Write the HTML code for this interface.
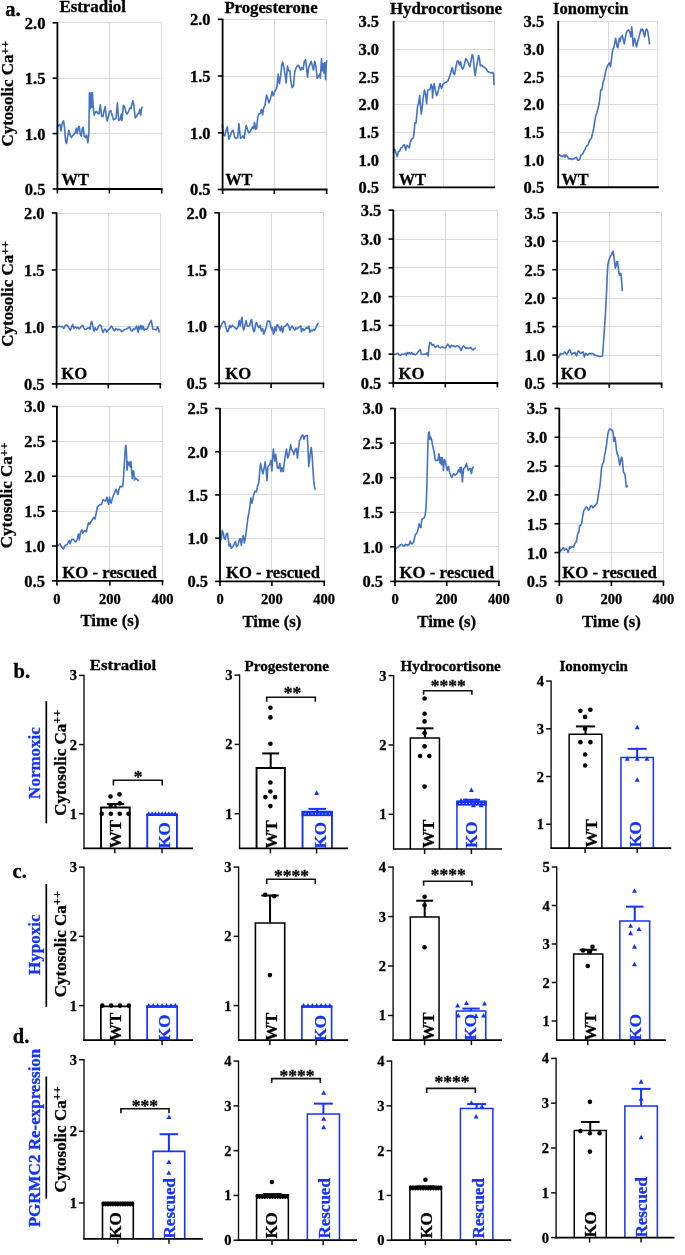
<!DOCTYPE html>
<html><head><meta charset="utf-8"><style>
html,body{margin:0;padding:0;background:#fff;}
svg{display:block;font-family:"Liberation Serif", serif;will-change:transform;}
text{stroke:currentColor;stroke-width:0.3px;}
</style></head><body>
<svg width="685" height="1255" viewBox="0 0 685 1255">
<rect width="685" height="1255" fill="#fff"/>
<text x="5.2" y="15.6" font-size="20.5" font-weight="bold" fill="#000" color="#000" text-anchor="start">a.</text>
<text x="59.4" y="12" font-size="16.3" font-weight="bold" fill="#000" color="#000" text-anchor="start" textLength="66.6" lengthAdjust="spacingAndGlyphs">Estradiol</text>
<text x="224.4" y="13.1" font-size="16.3" font-weight="bold" fill="#000" color="#000" text-anchor="start" textLength="93.2" lengthAdjust="spacingAndGlyphs">Progesterone</text>
<text x="389.9" y="13.7" font-size="16.3" font-weight="bold" fill="#000" color="#000" text-anchor="start" textLength="112.2" lengthAdjust="spacingAndGlyphs">Hydrocortisone</text>
<text x="553.1" y="13.7" font-size="16.3" font-weight="bold" fill="#000" color="#000" text-anchor="start" textLength="75.4" lengthAdjust="spacingAndGlyphs">Ionomycin</text>
<text x="45.4" y="194.94" font-size="16.5" font-weight="bold" fill="#000" color="#000" text-anchor="end">0.5</text>
<line x1="52.6" y1="189" x2="57.4" y2="189" stroke="#000" stroke-width="1.6" stroke-linecap="butt"/>
<line x1="57.4" y1="133.5" x2="161.7" y2="133.5" stroke="#d9d9d9" stroke-width="1" stroke-linecap="butt"/>
<text x="45.4" y="139.54" font-size="16.5" font-weight="bold" fill="#000" color="#000" text-anchor="end">1.0</text>
<line x1="52.6" y1="133.6" x2="57.4" y2="133.6" stroke="#000" stroke-width="1.6" stroke-linecap="butt"/>
<line x1="57.4" y1="78.5" x2="161.7" y2="78.5" stroke="#d9d9d9" stroke-width="1" stroke-linecap="butt"/>
<text x="45.4" y="84.14" font-size="16.5" font-weight="bold" fill="#000" color="#000" text-anchor="end">1.5</text>
<line x1="52.6" y1="78.2" x2="57.4" y2="78.2" stroke="#000" stroke-width="1.6" stroke-linecap="butt"/>
<line x1="57.4" y1="22.5" x2="161.7" y2="22.5" stroke="#d9d9d9" stroke-width="1" stroke-linecap="butt"/>
<text x="45.4" y="28.74" font-size="16.5" font-weight="bold" fill="#000" color="#000" text-anchor="end">2.0</text>
<line x1="52.6" y1="22.8" x2="57.4" y2="22.8" stroke="#000" stroke-width="1.6" stroke-linecap="butt"/>
<line x1="109.5" y1="22.8" x2="109.5" y2="189" stroke="#d9d9d9" stroke-width="1" stroke-linecap="butt"/>
<line x1="161.5" y1="22.8" x2="161.5" y2="189" stroke="#d9d9d9" stroke-width="1" stroke-linecap="butt"/>
<polyline points="56.97,127.04 58.94,125.07 59.99,124.42 60.91,130.99 62.23,123.1 63.54,120.74 64.46,127.04 65.51,140.18 66.56,143.47 67.48,137.56 68.8,130.33 70.11,134.93 71.42,137.56 72.74,135.58 74.05,134.27 75.37,132.3 76.28,128.36 77.34,133.61 78.39,127.04 79.31,126.52 80.23,134.27 81.28,136.24 82.33,128.36 83.25,127.31 84.17,136.24 85.48,137.56 86.53,134.93 87.85,142.81 88.9,133.61 89.42,92.88 90.21,108.65 91.13,92.88 91.79,107.34 92.45,92.88 93.1,106.02 94.15,115.22 95.07,112.59 96.39,111.28 97.7,113.25 99.02,113.91 100.33,104.71 101.64,116.53 102.96,116.53 104.27,109.96 105.19,106.68 106.24,116.53 107.16,121.13 108.21,117.19 109.53,111.28 110.84,110.62 112.15,115.22 113.47,119.82 114.78,119.16 116.1,117.85 117.41,102.74 118.72,120.47 120.04,119.82 121.35,113.91 122.01,120.47 123.32,105.37 124.64,106.68 125.95,112.59 127.26,113.91 128.58,111.28 129.89,107.99 130.94,108.65 131.86,104.71 132.78,100.77 133.83,104.71 135.15,117.85 136.46,116.53 137.77,113.91 138.83,113.25 139.75,109.31 140.67,115.22 141.72,107.99 142.37,106.68" fill="none" stroke="#4472c4" stroke-width="1.6" stroke-linejoin="round"/>
<line x1="57.4" y1="22.3" x2="57.4" y2="189.9" stroke="#000" stroke-width="1.8" stroke-linecap="butt"/>
<line x1="56.5" y1="189" x2="162.6" y2="189" stroke="#000" stroke-width="1.9" stroke-linecap="butt"/>
<line x1="57.4" y1="189" x2="57.4" y2="193.5" stroke="#000" stroke-width="1.6" stroke-linecap="butt"/>
<line x1="109.4" y1="189" x2="109.4" y2="193.5" stroke="#000" stroke-width="1.6" stroke-linecap="butt"/>
<line x1="161.7" y1="189" x2="161.7" y2="193.5" stroke="#000" stroke-width="1.6" stroke-linecap="butt"/>
<text x="61.6" y="185.4" font-size="17" font-weight="bold" fill="#000" color="#000" text-anchor="start" textLength="27.4" lengthAdjust="spacingAndGlyphs">WT</text>
<text x="210.6" y="195.44" font-size="16.5" font-weight="bold" fill="#000" color="#000" text-anchor="end">0.5</text>
<line x1="217.8" y1="189.5" x2="222.6" y2="189.5" stroke="#000" stroke-width="1.6" stroke-linecap="butt"/>
<line x1="222.6" y1="132.5" x2="326.6" y2="132.5" stroke="#d9d9d9" stroke-width="1" stroke-linecap="butt"/>
<text x="210.6" y="138.71" font-size="16.5" font-weight="bold" fill="#000" color="#000" text-anchor="end">1.0</text>
<line x1="217.8" y1="132.77" x2="222.6" y2="132.77" stroke="#000" stroke-width="1.6" stroke-linecap="butt"/>
<line x1="222.6" y1="76.5" x2="326.6" y2="76.5" stroke="#d9d9d9" stroke-width="1" stroke-linecap="butt"/>
<text x="210.6" y="81.97" font-size="16.5" font-weight="bold" fill="#000" color="#000" text-anchor="end">1.5</text>
<line x1="217.8" y1="76.03" x2="222.6" y2="76.03" stroke="#000" stroke-width="1.6" stroke-linecap="butt"/>
<line x1="222.6" y1="19.5" x2="326.6" y2="19.5" stroke="#d9d9d9" stroke-width="1" stroke-linecap="butt"/>
<text x="210.6" y="25.24" font-size="16.5" font-weight="bold" fill="#000" color="#000" text-anchor="end">2.0</text>
<line x1="217.8" y1="19.3" x2="222.6" y2="19.3" stroke="#000" stroke-width="1.6" stroke-linecap="butt"/>
<line x1="274.5" y1="19.3" x2="274.5" y2="189.5" stroke="#d9d9d9" stroke-width="1" stroke-linecap="butt"/>
<line x1="326.5" y1="19.3" x2="326.5" y2="189.5" stroke="#d9d9d9" stroke-width="1" stroke-linecap="butt"/>
<polyline points="222.41,124.67 223.53,135.11 224.82,135.92 226.1,130.3 227.23,126.76 228.83,139.13 230.44,135.11 232.04,131.1 233.17,130.3 234.77,137.52 236.06,138.33 237.67,137.52 238.95,123.87 239.75,131.9 240.56,138.33 241.68,137.52 242.8,135.92 244.09,138.33 245.37,130.3 246.18,125.48 247.3,128.69 248.59,132.7 250.19,131.9 251.48,128.69 252.92,126.76 253.72,128.69 254.53,122.27 255.65,129.49 256.61,128.69 257.74,117.45 258.86,114.24 260.15,113.43 261.43,109.42 262.56,115.04 263.68,107.81 264.97,105.4 266.57,94.97 267.7,98.18 268.98,103 270.59,98.18 272.19,91.43 273.32,95.77 274.6,92.07 275.89,89.34 277.01,86.94 278.13,74.09 279.42,83.72 280.7,75.69 281.83,64.45 282.63,62.04 283.92,67.67 285.04,74.09 286.16,82.92 287.45,66.06 288.73,70.88 289.86,70.88 290.98,82.12 292.27,87.74 293.55,85.33 294.67,72.48 295.8,68.47 297.08,66.06 298.37,65.26 299.49,67.67 300.78,70.07 301.9,67.67 303.19,69.27 304.31,61.24 305.59,59.64 306.72,69.27 307.52,77.3 308.65,67.67 309.93,64.45 311.22,61.24 312.34,66.06 313.46,70.07 314.75,61.24 315.87,66.06 317.16,78.1 318.28,77.3 319.57,74.09 320.37,78.1 321.49,58.83 322.3,70.88 323.1,63.65 324.06,73.29 324.71,62.85 325.67,79.71 326.47,61.24 327.27,60.44" fill="none" stroke="#4472c4" stroke-width="1.6" stroke-linejoin="round"/>
<line x1="222.6" y1="18.8" x2="222.6" y2="190.4" stroke="#000" stroke-width="1.8" stroke-linecap="butt"/>
<line x1="221.7" y1="189.5" x2="327.5" y2="189.5" stroke="#000" stroke-width="1.9" stroke-linecap="butt"/>
<line x1="222.6" y1="189.5" x2="222.6" y2="194" stroke="#000" stroke-width="1.6" stroke-linecap="butt"/>
<line x1="274.3" y1="189.5" x2="274.3" y2="194" stroke="#000" stroke-width="1.6" stroke-linecap="butt"/>
<line x1="326.6" y1="189.5" x2="326.6" y2="194" stroke="#000" stroke-width="1.6" stroke-linecap="butt"/>
<text x="225.2" y="185" font-size="17" font-weight="bold" fill="#000" color="#000" text-anchor="start" textLength="27.3" lengthAdjust="spacingAndGlyphs">WT</text>
<text x="379.1" y="193.34" font-size="16.5" font-weight="bold" fill="#000" color="#000" text-anchor="end">0.5</text>
<line x1="393.6" y1="159.5" x2="494.1" y2="159.5" stroke="#d9d9d9" stroke-width="1" stroke-linecap="butt"/>
<text x="379.1" y="165.67" font-size="16.5" font-weight="bold" fill="#000" color="#000" text-anchor="end">1.0</text>
<line x1="393.6" y1="132.5" x2="494.1" y2="132.5" stroke="#d9d9d9" stroke-width="1" stroke-linecap="butt"/>
<text x="379.1" y="138.01" font-size="16.5" font-weight="bold" fill="#000" color="#000" text-anchor="end">1.5</text>
<line x1="393.6" y1="104.5" x2="494.1" y2="104.5" stroke="#d9d9d9" stroke-width="1" stroke-linecap="butt"/>
<text x="379.1" y="110.34" font-size="16.5" font-weight="bold" fill="#000" color="#000" text-anchor="end">2.0</text>
<line x1="393.6" y1="76.5" x2="494.1" y2="76.5" stroke="#d9d9d9" stroke-width="1" stroke-linecap="butt"/>
<text x="379.1" y="82.67" font-size="16.5" font-weight="bold" fill="#000" color="#000" text-anchor="end">2.5</text>
<line x1="393.6" y1="49.5" x2="494.1" y2="49.5" stroke="#d9d9d9" stroke-width="1" stroke-linecap="butt"/>
<text x="379.1" y="55.01" font-size="16.5" font-weight="bold" fill="#000" color="#000" text-anchor="end">3.0</text>
<line x1="393.6" y1="21.5" x2="494.1" y2="21.5" stroke="#d9d9d9" stroke-width="1" stroke-linecap="butt"/>
<text x="379.1" y="27.34" font-size="16.5" font-weight="bold" fill="#000" color="#000" text-anchor="end">3.5</text>
<line x1="443.5" y1="21.4" x2="443.5" y2="187.4" stroke="#d9d9d9" stroke-width="1" stroke-linecap="butt"/>
<line x1="494.5" y1="21.4" x2="494.5" y2="187.4" stroke="#d9d9d9" stroke-width="1" stroke-linecap="butt"/>
<polyline points="393.53,152.6 394.82,149.38 396.1,153.4 397.23,156.61 398.35,151.79 399.64,150.99 400.92,147.78 402.04,147.78 403.17,145.37 404.45,144.57 405.74,150.19 406.86,145.37 407.99,146.17 409.27,147.78 410.56,141.35 411.68,138.95 413.29,138.14 414.09,132.52 414.89,122.89 416.02,122.89 416.98,112.45 417.62,106.02 418.59,103.62 419.71,95.59 420.51,106.02 421.32,114.05 422.12,107.63 423.4,96.39 424.53,89.97 425.65,94.78 426.61,103.62 427.74,89.97 428.86,89.97 430.15,89.16 431.11,84.34 432.07,86.75 432.56,98 433.36,88.36 434.16,83.54 435.29,89.97 436.57,95.59 437.7,93.18 438.98,87.56 440.1,83.54 441.39,88.36 443,84.34 444.6,82.74 446.21,82.26 447.81,81.13 449.42,77.12 451.02,72.3 452.31,67.48 453.43,73.1 454.56,74.71 455.84,67.48 457.13,61.06 458.25,61.06 459.38,65.07 460.66,61.86 461.46,66.68 462.59,69.09 463.55,67.48 464.67,63.47 465.8,58.65 467.08,60.26 468.69,64.27 469.97,66.68 471.1,60.26 472.22,54.64 473.19,57.04 474.31,69.09 475.11,75.51 476.4,67.48 477.52,61.06 478.65,55.44 479.61,59.45 480.25,65.88 481.54,65.07 483.14,66.68 484.75,67.48 486.35,69.09 487.64,71.5 489.57,72.3 491.17,73.1 492.78,72.3 493.58,73.91 494.06,85.15" fill="none" stroke="#4472c4" stroke-width="1.6" stroke-linejoin="round"/>
<line x1="393.6" y1="20.9" x2="393.6" y2="188.3" stroke="#000" stroke-width="1.8" stroke-linecap="butt"/>
<line x1="392.7" y1="187.4" x2="495" y2="187.4" stroke="#000" stroke-width="1.9" stroke-linecap="butt"/>
<text x="398.8" y="185" font-size="17" font-weight="bold" fill="#000" color="#000" text-anchor="start" textLength="27.1" lengthAdjust="spacingAndGlyphs">WT</text>
<text x="544.2" y="193.24" font-size="16.5" font-weight="bold" fill="#000" color="#000" text-anchor="end">0.5</text>
<line x1="558.2" y1="159.5" x2="657.9" y2="159.5" stroke="#d9d9d9" stroke-width="1" stroke-linecap="butt"/>
<text x="544.2" y="165.59" font-size="16.5" font-weight="bold" fill="#000" color="#000" text-anchor="end">1.0</text>
<line x1="558.2" y1="132.5" x2="657.9" y2="132.5" stroke="#d9d9d9" stroke-width="1" stroke-linecap="butt"/>
<text x="544.2" y="137.94" font-size="16.5" font-weight="bold" fill="#000" color="#000" text-anchor="end">1.5</text>
<line x1="558.2" y1="104.5" x2="657.9" y2="104.5" stroke="#d9d9d9" stroke-width="1" stroke-linecap="butt"/>
<text x="544.2" y="110.29" font-size="16.5" font-weight="bold" fill="#000" color="#000" text-anchor="end">2.0</text>
<line x1="558.2" y1="76.5" x2="657.9" y2="76.5" stroke="#d9d9d9" stroke-width="1" stroke-linecap="butt"/>
<text x="544.2" y="82.64" font-size="16.5" font-weight="bold" fill="#000" color="#000" text-anchor="end">2.5</text>
<line x1="558.2" y1="49.5" x2="657.9" y2="49.5" stroke="#d9d9d9" stroke-width="1" stroke-linecap="butt"/>
<text x="544.2" y="54.99" font-size="16.5" font-weight="bold" fill="#000" color="#000" text-anchor="end">3.0</text>
<line x1="558.2" y1="21.5" x2="657.9" y2="21.5" stroke="#d9d9d9" stroke-width="1" stroke-linecap="butt"/>
<text x="544.2" y="27.34" font-size="16.5" font-weight="bold" fill="#000" color="#000" text-anchor="end">3.5</text>
<line x1="608.5" y1="21.4" x2="608.5" y2="187.3" stroke="#d9d9d9" stroke-width="1" stroke-linecap="butt"/>
<line x1="657.5" y1="21.4" x2="657.5" y2="187.3" stroke="#d9d9d9" stroke-width="1" stroke-linecap="butt"/>
<polyline points="558.37,154.12 559.6,154.89 561.13,156.42 562.66,156.42 563.89,154.89 564.96,157.19 566.04,154.89 567.26,156.42 568.8,158.72 570.33,158.72 571.86,159.48 573.39,158.72 574.93,157.95 576.46,157.19 577.69,160.25 578.76,160.25 579.83,158.72 581.06,154.89 582.59,154.12 584.12,151.05 585.66,147.99 586.88,145.69 587.96,144.92 589.03,141.86 590.25,139.56 591.48,138.03 592.55,133.43 593.63,128.83 594.55,122.7 595.62,116.57 596.69,113.5 597.92,108.9 599.14,103.54 600.22,95.11 600.68,90.51 601.75,89.74 602.52,85.91 603.28,81.31 604.05,79.78 604.82,75.95 605.58,72.12 606.35,69.05 607.12,66.75 608.34,64.45 609.41,62.92 610.49,66.75 611.41,59.85 612.17,53.72 612.94,49.12 614.01,46.82 614.78,42.99 615.55,38.39 616.31,41.46 617.08,46.82 617.84,47.59 618.61,42.99 619.38,38.39 620.14,41.46 620.91,37.63 622.14,35.33 623.21,39.16 624.28,43.76 625.2,38.39 626.28,33.03 627.35,30.73 628.57,29.96 629.8,32.26 630.87,36.86 631.64,26.9 632.41,33.8 633.17,46.06 633.94,39.93 634.71,38.39 635.47,42.23 636.55,46.82 637.77,41.46 639,36.86 640.07,33.03 640.84,29.2 641.6,30.73 642.37,29.2 643.14,30.73 643.9,34.56 644.67,36.86 645.44,31.5 646.2,29.2 646.97,29.2 647.89,32.26 648.81,38.39 649.57,44.52" fill="none" stroke="#4472c4" stroke-width="1.6" stroke-linejoin="round"/>
<line x1="558.2" y1="20.9" x2="558.2" y2="188.2" stroke="#000" stroke-width="1.8" stroke-linecap="butt"/>
<line x1="557.3" y1="187.3" x2="658.8" y2="187.3" stroke="#000" stroke-width="1.9" stroke-linecap="butt"/>
<text x="561.5" y="184.8" font-size="17" font-weight="bold" fill="#000" color="#000" text-anchor="start" textLength="27.1" lengthAdjust="spacingAndGlyphs">WT</text>
<text x="44.6" y="389.84" font-size="16.5" font-weight="bold" fill="#000" color="#000" text-anchor="end">0.5</text>
<line x1="51.8" y1="383.9" x2="56.6" y2="383.9" stroke="#000" stroke-width="1.6" stroke-linecap="butt"/>
<line x1="56.6" y1="326.5" x2="160.3" y2="326.5" stroke="#d9d9d9" stroke-width="1" stroke-linecap="butt"/>
<text x="44.6" y="332.87" font-size="16.5" font-weight="bold" fill="#000" color="#000" text-anchor="end">1.0</text>
<line x1="51.8" y1="326.93" x2="56.6" y2="326.93" stroke="#000" stroke-width="1.6" stroke-linecap="butt"/>
<line x1="56.6" y1="269.5" x2="160.3" y2="269.5" stroke="#d9d9d9" stroke-width="1" stroke-linecap="butt"/>
<text x="44.6" y="275.91" font-size="16.5" font-weight="bold" fill="#000" color="#000" text-anchor="end">1.5</text>
<line x1="51.8" y1="269.97" x2="56.6" y2="269.97" stroke="#000" stroke-width="1.6" stroke-linecap="butt"/>
<line x1="56.6" y1="213.5" x2="160.3" y2="213.5" stroke="#d9d9d9" stroke-width="1" stroke-linecap="butt"/>
<text x="44.6" y="218.94" font-size="16.5" font-weight="bold" fill="#000" color="#000" text-anchor="end">2.0</text>
<line x1="51.8" y1="213" x2="56.6" y2="213" stroke="#000" stroke-width="1.6" stroke-linecap="butt"/>
<line x1="108.5" y1="213" x2="108.5" y2="383.9" stroke="#d9d9d9" stroke-width="1" stroke-linecap="butt"/>
<line x1="160.5" y1="213" x2="160.5" y2="383.9" stroke="#d9d9d9" stroke-width="1" stroke-linecap="butt"/>
<polyline points="56.61,327.67 57.89,326.86 59.5,326.06 61.1,326.86 62.23,326.38 63.83,328.47 64.96,326.06 66.24,324.77 67.53,325.74 68.65,327.67 70.26,330.07 71.38,327.67 72.67,324.45 73.95,328.47 75.07,326.86 76.68,327.99 77.8,327.34 79.09,328.95 80.37,327.67 81.5,326.06 82.62,325.26 83.59,327.67 84.71,329.27 86.32,328.95 87.92,327.99 89.05,327.67 90.01,329.27 90.65,324.45 91.61,321.24 92.74,325.26 93.54,330.07 94.34,330.88 95.15,327.67 96.43,330.07 97.56,328.95 98.68,326.06 99.97,324.77 101.25,326.06 102.37,330.88 103.18,332.48 104.46,329.27 105.59,329.27 106.71,332.16 108,330.07 109.28,329.27 110.4,327.67 111.53,326.06 112.49,327.67 113.62,330.07 114.74,330.88 115.7,328.47 116.83,328.95 117.95,330.07 119.24,329.27 120.52,330.07 121.65,331.68 123.25,330.88 124.86,329.27 126.46,328.95 128.07,327.99 129.67,326.86 130.8,330.07 132.08,331.2 133.37,328.95 134.49,329.59 135.62,327.67 136.58,326.06 137.22,329.27 138.19,332.16 138.83,326.06 139.79,329.27 140.92,325.26 142.04,329.27 143,326.06 144.13,330.07 145.25,328.95 146.54,329.27 147.34,328.47 148.14,326.86 148.95,324.45 149.75,322.85 150.55,321.56 151.35,320.44 152.16,325.26 152.96,329.27 154.57,329.59 156.17,330.07 157.46,326.86 158.58,329.27 159.38,332.48" fill="none" stroke="#4472c4" stroke-width="1.6" stroke-linejoin="round"/>
<line x1="56.6" y1="212.5" x2="56.6" y2="384.8" stroke="#000" stroke-width="1.8" stroke-linecap="butt"/>
<line x1="55.7" y1="383.9" x2="161.2" y2="383.9" stroke="#000" stroke-width="1.9" stroke-linecap="butt"/>
<line x1="56.6" y1="383.9" x2="56.6" y2="388.4" stroke="#000" stroke-width="1.6" stroke-linecap="butt"/>
<line x1="108.3" y1="383.9" x2="108.3" y2="388.4" stroke="#000" stroke-width="1.6" stroke-linecap="butt"/>
<line x1="160.3" y1="383.9" x2="160.3" y2="388.4" stroke="#000" stroke-width="1.6" stroke-linecap="butt"/>
<text x="61.2" y="379.4" font-size="17" font-weight="bold" fill="#000" color="#000" text-anchor="start" textLength="26" lengthAdjust="spacingAndGlyphs">KO</text>
<text x="207.1" y="389.34" font-size="16.5" font-weight="bold" fill="#000" color="#000" text-anchor="end">0.5</text>
<line x1="214.3" y1="383.4" x2="219.1" y2="383.4" stroke="#000" stroke-width="1.6" stroke-linecap="butt"/>
<line x1="219.1" y1="326.5" x2="323.4" y2="326.5" stroke="#d9d9d9" stroke-width="1" stroke-linecap="butt"/>
<text x="207.1" y="332.47" font-size="16.5" font-weight="bold" fill="#000" color="#000" text-anchor="end">1.0</text>
<line x1="214.3" y1="326.53" x2="219.1" y2="326.53" stroke="#000" stroke-width="1.6" stroke-linecap="butt"/>
<line x1="219.1" y1="269.5" x2="323.4" y2="269.5" stroke="#d9d9d9" stroke-width="1" stroke-linecap="butt"/>
<text x="207.1" y="275.61" font-size="16.5" font-weight="bold" fill="#000" color="#000" text-anchor="end">1.5</text>
<line x1="214.3" y1="269.67" x2="219.1" y2="269.67" stroke="#000" stroke-width="1.6" stroke-linecap="butt"/>
<line x1="219.1" y1="212.5" x2="323.4" y2="212.5" stroke="#d9d9d9" stroke-width="1" stroke-linecap="butt"/>
<text x="207.1" y="218.74" font-size="16.5" font-weight="bold" fill="#000" color="#000" text-anchor="end">2.0</text>
<line x1="214.3" y1="212.8" x2="219.1" y2="212.8" stroke="#000" stroke-width="1.6" stroke-linecap="butt"/>
<line x1="271.5" y1="212.8" x2="271.5" y2="383.4" stroke="#d9d9d9" stroke-width="1" stroke-linecap="butt"/>
<line x1="323.5" y1="212.8" x2="323.5" y2="383.4" stroke="#d9d9d9" stroke-width="1" stroke-linecap="butt"/>
<polyline points="219.28,330.07 220.41,326.86 222.01,323.65 223.62,321.24 224.74,322.04 226.03,327.67 227.31,331.68 228.44,330.88 229.56,325.26 230.85,327.67 232.13,325.26 233.26,326.06 234.86,327.67 236.47,329.27 238.07,326.86 239.2,320.44 240.16,326.06 241.29,319.64 242.09,317.23 242.89,327.67 243.69,330.07 244.98,325.26 246.1,320.44 247.23,326.06 248.51,326.06 249.8,325.26 250.92,320.44 251.72,319.64 252.53,326.06 253.65,331.68 254.61,330.88 255.74,323.65 256.54,322.53 257.83,326.06 258.95,327.67 260.07,325.26 261.36,330.88 262.64,328.47 263.77,334.09 264.89,330.88 266.18,327.67 267.46,321.24 268.59,320.92 269.71,321.24 270.67,326.06 271.8,330.07 272.6,327.67 273.4,334.09 274.21,332.48 275.01,326.86 276.13,330.88 277.1,324.45 278.22,326.06 279.35,327.67 280.31,330.88 281.43,326.06 282.56,332.48 283.84,326.86 285.13,326.06 286.25,325.26 287.38,323.65 288.66,326.06 289.94,330.07 291.07,327.67 292.19,326.06 293.48,328.47 294.76,330.07 295.89,327.67 297.01,328.95 298.3,327.67 299.58,326.86 300.7,325.74 301.51,331.68 302.79,328.47 303.92,330.56 305.04,329.27 306.33,327.67 307.61,328.47 308.73,326.06 309.86,332.48 311.14,330.07 312.43,330.88 313.55,329.27 314.68,330.07 315.96,327.67 317.25,324.45 318.37,322.85" fill="none" stroke="#4472c4" stroke-width="1.6" stroke-linejoin="round"/>
<line x1="219.1" y1="212.3" x2="219.1" y2="384.3" stroke="#000" stroke-width="1.8" stroke-linecap="butt"/>
<line x1="218.2" y1="383.4" x2="324.3" y2="383.4" stroke="#000" stroke-width="1.9" stroke-linecap="butt"/>
<line x1="219.1" y1="383.4" x2="219.1" y2="387.9" stroke="#000" stroke-width="1.6" stroke-linecap="butt"/>
<line x1="271.1" y1="383.4" x2="271.1" y2="387.9" stroke="#000" stroke-width="1.6" stroke-linecap="butt"/>
<line x1="323.4" y1="383.4" x2="323.4" y2="387.9" stroke="#000" stroke-width="1.6" stroke-linecap="butt"/>
<text x="225.2" y="379.1" font-size="17" font-weight="bold" fill="#000" color="#000" text-anchor="start" textLength="26" lengthAdjust="spacingAndGlyphs">KO</text>
<text x="381.3" y="388.94" font-size="16.5" font-weight="bold" fill="#000" color="#000" text-anchor="end">0.5</text>
<line x1="388.5" y1="383" x2="393.3" y2="383" stroke="#000" stroke-width="1.6" stroke-linecap="butt"/>
<line x1="393.3" y1="354.5" x2="497.4" y2="354.5" stroke="#d9d9d9" stroke-width="1" stroke-linecap="butt"/>
<text x="381.3" y="360.14" font-size="16.5" font-weight="bold" fill="#000" color="#000" text-anchor="end">1.0</text>
<line x1="388.5" y1="354.2" x2="393.3" y2="354.2" stroke="#000" stroke-width="1.6" stroke-linecap="butt"/>
<line x1="393.3" y1="325.5" x2="497.4" y2="325.5" stroke="#d9d9d9" stroke-width="1" stroke-linecap="butt"/>
<text x="381.3" y="331.34" font-size="16.5" font-weight="bold" fill="#000" color="#000" text-anchor="end">1.5</text>
<line x1="388.5" y1="325.4" x2="393.3" y2="325.4" stroke="#000" stroke-width="1.6" stroke-linecap="butt"/>
<line x1="393.3" y1="296.5" x2="497.4" y2="296.5" stroke="#d9d9d9" stroke-width="1" stroke-linecap="butt"/>
<text x="381.3" y="302.54" font-size="16.5" font-weight="bold" fill="#000" color="#000" text-anchor="end">2.0</text>
<line x1="388.5" y1="296.6" x2="393.3" y2="296.6" stroke="#000" stroke-width="1.6" stroke-linecap="butt"/>
<line x1="393.3" y1="267.5" x2="497.4" y2="267.5" stroke="#d9d9d9" stroke-width="1" stroke-linecap="butt"/>
<text x="381.3" y="273.74" font-size="16.5" font-weight="bold" fill="#000" color="#000" text-anchor="end">2.5</text>
<line x1="388.5" y1="267.8" x2="393.3" y2="267.8" stroke="#000" stroke-width="1.6" stroke-linecap="butt"/>
<line x1="393.3" y1="239.5" x2="497.4" y2="239.5" stroke="#d9d9d9" stroke-width="1" stroke-linecap="butt"/>
<text x="381.3" y="244.94" font-size="16.5" font-weight="bold" fill="#000" color="#000" text-anchor="end">3.0</text>
<line x1="388.5" y1="239" x2="393.3" y2="239" stroke="#000" stroke-width="1.6" stroke-linecap="butt"/>
<line x1="393.3" y1="210.5" x2="497.4" y2="210.5" stroke="#d9d9d9" stroke-width="1" stroke-linecap="butt"/>
<text x="381.3" y="216.14" font-size="16.5" font-weight="bold" fill="#000" color="#000" text-anchor="end">3.5</text>
<line x1="388.5" y1="210.2" x2="393.3" y2="210.2" stroke="#000" stroke-width="1.6" stroke-linecap="butt"/>
<line x1="445.5" y1="210.2" x2="445.5" y2="383" stroke="#d9d9d9" stroke-width="1" stroke-linecap="butt"/>
<line x1="497.5" y1="210.2" x2="497.5" y2="383" stroke="#d9d9d9" stroke-width="1" stroke-linecap="butt"/>
<polyline points="393.53,354.09 395.14,354.41 396.74,353.77 398.03,353.29 399.31,354.89 400.6,355.37 402.04,354.09 403.65,354.41 405.26,353.29 406.38,355.37 407.34,352.48 408.47,353.77 409.27,352.48 410.56,354.09 411.68,352.48 412.8,354.41 414.09,353.77 415.37,354.89 416.5,354.09 417.62,352.48 418.91,350.88 420.19,349.59 421.32,354.09 422.92,354.41 424.53,354.09 426.13,354.41 427.26,352.8 428.22,356.02 428.86,347.67 429.83,342.53 430.95,342.85 432.07,345.26 433.36,344.45 434.64,346.86 435.77,347.34 436.89,346.06 437.86,345.26 438.98,347.34 440.59,347.67 442.19,346.86 443.8,347.67 445.4,347.99 446.53,346.06 447.81,344.13 449.1,346.06 450.22,347.67 451.35,345.26 452.63,346.06 453.92,345.74 455.04,346.86 456.16,346.06 457.45,345.74 458.73,346.86 459.86,347.67 460.98,350.56 462.27,347.67 463.55,345.74 464.67,346.86 465.8,348.47 467.08,347.67 468.37,348.47 469.49,347.99 470.62,347.34 471.9,349.27 473.19,350.07 474.31,348.47 475.92,347.99" fill="none" stroke="#4472c4" stroke-width="1.6" stroke-linejoin="round"/>
<line x1="393.3" y1="209.7" x2="393.3" y2="383.9" stroke="#000" stroke-width="1.8" stroke-linecap="butt"/>
<line x1="392.4" y1="383" x2="498.3" y2="383" stroke="#000" stroke-width="1.9" stroke-linecap="butt"/>
<line x1="393.3" y1="383" x2="393.3" y2="387.5" stroke="#000" stroke-width="1.6" stroke-linecap="butt"/>
<line x1="445.3" y1="383" x2="445.3" y2="387.5" stroke="#000" stroke-width="1.6" stroke-linecap="butt"/>
<line x1="497.4" y1="383" x2="497.4" y2="387.5" stroke="#000" stroke-width="1.6" stroke-linecap="butt"/>
<text x="398.6" y="379.1" font-size="17" font-weight="bold" fill="#000" color="#000" text-anchor="start" textLength="26" lengthAdjust="spacingAndGlyphs">KO</text>
<text x="545.1" y="389.44" font-size="16.5" font-weight="bold" fill="#000" color="#000" text-anchor="end">0.5</text>
<line x1="552.3" y1="383.5" x2="557.1" y2="383.5" stroke="#000" stroke-width="1.6" stroke-linecap="butt"/>
<line x1="557.1" y1="355.5" x2="661.6" y2="355.5" stroke="#d9d9d9" stroke-width="1" stroke-linecap="butt"/>
<text x="545.1" y="360.99" font-size="16.5" font-weight="bold" fill="#000" color="#000" text-anchor="end">1.0</text>
<line x1="552.3" y1="355.05" x2="557.1" y2="355.05" stroke="#000" stroke-width="1.6" stroke-linecap="butt"/>
<line x1="557.1" y1="326.5" x2="661.6" y2="326.5" stroke="#d9d9d9" stroke-width="1" stroke-linecap="butt"/>
<text x="545.1" y="332.54" font-size="16.5" font-weight="bold" fill="#000" color="#000" text-anchor="end">1.5</text>
<line x1="552.3" y1="326.6" x2="557.1" y2="326.6" stroke="#000" stroke-width="1.6" stroke-linecap="butt"/>
<line x1="557.1" y1="298.5" x2="661.6" y2="298.5" stroke="#d9d9d9" stroke-width="1" stroke-linecap="butt"/>
<text x="545.1" y="304.09" font-size="16.5" font-weight="bold" fill="#000" color="#000" text-anchor="end">2.0</text>
<line x1="552.3" y1="298.15" x2="557.1" y2="298.15" stroke="#000" stroke-width="1.6" stroke-linecap="butt"/>
<line x1="557.1" y1="269.5" x2="661.6" y2="269.5" stroke="#d9d9d9" stroke-width="1" stroke-linecap="butt"/>
<text x="545.1" y="275.64" font-size="16.5" font-weight="bold" fill="#000" color="#000" text-anchor="end">2.5</text>
<line x1="552.3" y1="269.7" x2="557.1" y2="269.7" stroke="#000" stroke-width="1.6" stroke-linecap="butt"/>
<line x1="557.1" y1="241.5" x2="661.6" y2="241.5" stroke="#d9d9d9" stroke-width="1" stroke-linecap="butt"/>
<text x="545.1" y="247.19" font-size="16.5" font-weight="bold" fill="#000" color="#000" text-anchor="end">3.0</text>
<line x1="552.3" y1="241.25" x2="557.1" y2="241.25" stroke="#000" stroke-width="1.6" stroke-linecap="butt"/>
<line x1="557.1" y1="212.5" x2="661.6" y2="212.5" stroke="#d9d9d9" stroke-width="1" stroke-linecap="butt"/>
<text x="545.1" y="218.74" font-size="16.5" font-weight="bold" fill="#000" color="#000" text-anchor="end">3.5</text>
<line x1="552.3" y1="212.8" x2="557.1" y2="212.8" stroke="#000" stroke-width="1.6" stroke-linecap="butt"/>
<line x1="609.5" y1="212.8" x2="609.5" y2="383.5" stroke="#d9d9d9" stroke-width="1" stroke-linecap="butt"/>
<line x1="661.5" y1="212.8" x2="661.5" y2="383.5" stroke="#d9d9d9" stroke-width="1" stroke-linecap="butt"/>
<polyline points="557.04,358.54 558.58,357.51 559.6,355.47 560.62,353.43 561.64,353.94 562.66,353.94 563.69,353.43 564.71,351.89 565.73,353.43 566.75,354.45 567.77,352.92 568.8,350.36 569.82,349.85 570.84,352.41 571.86,354.45 572.88,353.43 573.9,352.92 574.93,352.41 575.95,354.96 576.66,355.98 577.48,352.41 578.3,350.87 579.32,351.38 580.04,352.92 581.06,353.43 582.08,352.41 583.1,351.89 583.82,354.45 584.43,357 585.15,353.94 585.86,353.43 586.88,354.45 587.7,354.96 588.72,353.94 589.74,353.43 590.77,353.94 591.79,353.63 592.81,353.43 593.83,354.45 595.36,355.27 596.9,355.47 598.43,356.29 599.96,356.49 601.49,356.29 602.52,355.98 603.54,342.19 604.56,326.86 605.58,311.53 606.6,291.09 607.32,273.72 607.93,264.52 608.65,260.95 609.67,257.88 610.69,255.84 611.71,254.82 612.43,252.26 613.04,251.24 613.76,255.33 614.47,260.44 615.29,268.1 616.11,266.06 616.82,261.46 617.54,261.97 618.15,266.57 618.87,272.7 619.58,275.25 620.2,273.21 620.91,273.72 621.63,280.87 622.24,291.09" fill="none" stroke="#4472c4" stroke-width="1.6" stroke-linejoin="round"/>
<line x1="557.1" y1="212.3" x2="557.1" y2="384.4" stroke="#000" stroke-width="1.8" stroke-linecap="butt"/>
<line x1="556.2" y1="383.5" x2="662.5" y2="383.5" stroke="#000" stroke-width="1.9" stroke-linecap="butt"/>
<line x1="557.1" y1="383.5" x2="557.1" y2="388" stroke="#000" stroke-width="1.6" stroke-linecap="butt"/>
<line x1="609.3" y1="383.5" x2="609.3" y2="388" stroke="#000" stroke-width="1.6" stroke-linecap="butt"/>
<line x1="661.6" y1="383.5" x2="661.6" y2="388" stroke="#000" stroke-width="1.6" stroke-linecap="butt"/>
<text x="560.8" y="379.3" font-size="17" font-weight="bold" fill="#000" color="#000" text-anchor="start" textLength="26" lengthAdjust="spacingAndGlyphs">KO</text>
<text x="44.9" y="586.84" font-size="16.5" font-weight="bold" fill="#000" color="#000" text-anchor="end">0.5</text>
<line x1="52.1" y1="580.9" x2="56.9" y2="580.9" stroke="#000" stroke-width="1.6" stroke-linecap="butt"/>
<line x1="56.9" y1="546.5" x2="162.5" y2="546.5" stroke="#d9d9d9" stroke-width="1" stroke-linecap="butt"/>
<text x="44.9" y="551.94" font-size="16.5" font-weight="bold" fill="#000" color="#000" text-anchor="end">1.0</text>
<line x1="52.1" y1="546" x2="56.9" y2="546" stroke="#000" stroke-width="1.6" stroke-linecap="butt"/>
<line x1="56.9" y1="511.5" x2="162.5" y2="511.5" stroke="#d9d9d9" stroke-width="1" stroke-linecap="butt"/>
<text x="44.9" y="517.04" font-size="16.5" font-weight="bold" fill="#000" color="#000" text-anchor="end">1.5</text>
<line x1="52.1" y1="511.1" x2="56.9" y2="511.1" stroke="#000" stroke-width="1.6" stroke-linecap="butt"/>
<line x1="56.9" y1="476.5" x2="162.5" y2="476.5" stroke="#d9d9d9" stroke-width="1" stroke-linecap="butt"/>
<text x="44.9" y="482.14" font-size="16.5" font-weight="bold" fill="#000" color="#000" text-anchor="end">2.0</text>
<line x1="52.1" y1="476.2" x2="56.9" y2="476.2" stroke="#000" stroke-width="1.6" stroke-linecap="butt"/>
<line x1="56.9" y1="441.5" x2="162.5" y2="441.5" stroke="#d9d9d9" stroke-width="1" stroke-linecap="butt"/>
<text x="44.9" y="447.24" font-size="16.5" font-weight="bold" fill="#000" color="#000" text-anchor="end">2.5</text>
<line x1="52.1" y1="441.3" x2="56.9" y2="441.3" stroke="#000" stroke-width="1.6" stroke-linecap="butt"/>
<line x1="56.9" y1="406.5" x2="162.5" y2="406.5" stroke="#d9d9d9" stroke-width="1" stroke-linecap="butt"/>
<text x="44.9" y="412.34" font-size="16.5" font-weight="bold" fill="#000" color="#000" text-anchor="end">3.0</text>
<line x1="52.1" y1="406.4" x2="56.9" y2="406.4" stroke="#000" stroke-width="1.6" stroke-linecap="butt"/>
<line x1="109.5" y1="406.4" x2="109.5" y2="580.9" stroke="#d9d9d9" stroke-width="1" stroke-linecap="butt"/>
<line x1="162.5" y1="406.4" x2="162.5" y2="580.9" stroke="#d9d9d9" stroke-width="1" stroke-linecap="butt"/>
<polyline points="57.36,545.77 58.68,545.11 59.99,543.8 60.91,545.77 62.23,547.74 63.54,549.05 64.46,546.42 65.77,545.11 67.09,544.45 68.14,542.48 69.19,540.51 70.11,543.8 71.03,541.17 72.08,539.2 73.39,539.2 74.45,541.17 75.76,541.83 77.07,539.86 78.39,533.94 79.31,539.86 80.62,531.97 81.93,530 82.85,533.29 83.91,531.32 84.96,530.66 86.27,531.97 87.19,528.03 88.5,522.77 89.82,524.09 91.13,521.46 92.45,519.49 93.76,517.52 95.07,518.83 96.39,512.26 97.31,507.01 98.62,505.69 99.93,504.64 101.64,504.38 102.96,499.78 104.27,500.44 105.58,501.1 106.9,497.15 107.82,501.75 108.61,504.38 109.53,497.15 110.45,502.41 111.23,503.07 112.15,499.12 113.47,495.18 114.78,492.56 116.1,489.27 117.02,491.9 117.8,494.53 118.72,490.58 120.04,486.25 121.35,486.64 122.67,486.64 123.58,476.79 124.37,463.65 125.29,447.88 125.95,445.26 126.61,455.77 127,470.22 127.92,461.68 128.84,464.96 129.63,462.34 130.15,466.93 130.94,461.68 131.47,468.91 132.26,478.76 133.18,470.88 133.83,471.53 134.49,480.07 135.41,478.1 136.46,478.76 137.51,480.07 139.09,480.73" fill="none" stroke="#4472c4" stroke-width="1.6" stroke-linejoin="round"/>
<line x1="56.9" y1="405.9" x2="56.9" y2="581.8" stroke="#000" stroke-width="1.8" stroke-linecap="butt"/>
<line x1="56" y1="580.9" x2="163.4" y2="580.9" stroke="#000" stroke-width="1.9" stroke-linecap="butt"/>
<line x1="56.9" y1="580.9" x2="56.9" y2="585.4" stroke="#000" stroke-width="1.6" stroke-linecap="butt"/>
<line x1="109.9" y1="580.9" x2="109.9" y2="585.4" stroke="#000" stroke-width="1.6" stroke-linecap="butt"/>
<line x1="162.5" y1="580.9" x2="162.5" y2="585.4" stroke="#000" stroke-width="1.6" stroke-linecap="butt"/>
<text x="62.3" y="577.6" font-size="17" font-weight="bold" fill="#000" color="#000" text-anchor="start" textLength="94.6" lengthAdjust="spacingAndGlyphs">KO - rescued</text>
<text x="56.9" y="603.9" font-size="14.5" font-weight="bold" fill="#000" color="#000" text-anchor="middle">0</text>
<text x="109.9" y="603.9" font-size="14.5" font-weight="bold" fill="#000" color="#000" text-anchor="middle">200</text>
<text x="162.5" y="603.9" font-size="14.5" font-weight="bold" fill="#000" color="#000" text-anchor="middle">400</text>
<text x="109.9" y="626.4" font-size="16.8" font-weight="bold" fill="#000" color="#000" text-anchor="middle">Time (s)</text>
<text x="208" y="587.34" font-size="16.5" font-weight="bold" fill="#000" color="#000" text-anchor="end">0.5</text>
<line x1="215.2" y1="581.4" x2="220" y2="581.4" stroke="#000" stroke-width="1.6" stroke-linecap="butt"/>
<line x1="220" y1="538.5" x2="324.2" y2="538.5" stroke="#d9d9d9" stroke-width="1" stroke-linecap="butt"/>
<text x="208" y="544.12" font-size="16.5" font-weight="bold" fill="#000" color="#000" text-anchor="end">1.0</text>
<line x1="215.2" y1="538.17" x2="220" y2="538.17" stroke="#000" stroke-width="1.6" stroke-linecap="butt"/>
<line x1="220" y1="494.5" x2="324.2" y2="494.5" stroke="#d9d9d9" stroke-width="1" stroke-linecap="butt"/>
<text x="208" y="500.89" font-size="16.5" font-weight="bold" fill="#000" color="#000" text-anchor="end">1.5</text>
<line x1="215.2" y1="494.95" x2="220" y2="494.95" stroke="#000" stroke-width="1.6" stroke-linecap="butt"/>
<line x1="220" y1="451.5" x2="324.2" y2="451.5" stroke="#d9d9d9" stroke-width="1" stroke-linecap="butt"/>
<text x="208" y="457.67" font-size="16.5" font-weight="bold" fill="#000" color="#000" text-anchor="end">2.0</text>
<line x1="215.2" y1="451.73" x2="220" y2="451.73" stroke="#000" stroke-width="1.6" stroke-linecap="butt"/>
<line x1="220" y1="408.5" x2="324.2" y2="408.5" stroke="#d9d9d9" stroke-width="1" stroke-linecap="butt"/>
<text x="208" y="414.44" font-size="16.5" font-weight="bold" fill="#000" color="#000" text-anchor="end">2.5</text>
<line x1="215.2" y1="408.5" x2="220" y2="408.5" stroke="#000" stroke-width="1.6" stroke-linecap="butt"/>
<line x1="271.5" y1="408.5" x2="271.5" y2="581.4" stroke="#d9d9d9" stroke-width="1" stroke-linecap="butt"/>
<line x1="324.5" y1="408.5" x2="324.5" y2="581.4" stroke="#d9d9d9" stroke-width="1" stroke-linecap="butt"/>
<polyline points="220.01,542.29 221.21,539.29 222.26,530.26 223.32,533.27 224.22,538.53 225.27,539.29 226.32,534.02 227.53,533.27 228.28,539.29 229.03,546.05 230.23,543.8 231.29,548.31 232.79,546.8 234.29,543.8 235.35,541.54 236.55,546.8 238.05,545.3 239.26,539.29 240.31,538.53 241.36,545.3 242.26,539.29 243.32,535.53 244.37,543.05 245.57,536.28 246.77,527.26 247.83,518.23 248.88,512.97 250.08,505.45 250.83,497.93 251.89,503.2 252.79,499.44 253.84,494.17 254.89,491.17 256.4,491.92 257.6,485.9 258.8,482.89 259.86,469.36 260.61,463.35 261.66,468.61 262.86,473.87 263.92,469.36 265.12,461.84 266.32,471.62 266.92,480.64 267.83,467.11 268.88,465.6 269.93,464.1 270.83,460.34 271.89,470.86 272.64,458.08 273.39,449.06 274.14,456.58 274.89,461.09 275.65,454.32 276.4,459.59 277.45,467.86 278.65,468.61 279.86,463.35 280.91,471.62 281.96,467.86 283.17,471.62 284.37,462.59 285.42,454.32 286.47,449.06 287.68,458.08 288.88,455.08 289.93,449.06 290.68,444.55 291.74,449.81 292.94,451.32 293.99,454.32 295.2,449.81 296.4,448.31 297.45,458.08 298.2,451.32 299.41,440.79 300.46,439.29 301.51,436.28 302.71,434.77 303.92,439.29 304.97,436.28 306.02,435.53 307.23,435.53 307.98,447.56 308.73,466.35 309.48,460.34 310.23,453.57 311.29,447.56 312.04,455.08 312.94,468.61 313.69,480.64 314.44,486.65 315.5,489.66" fill="none" stroke="#4472c4" stroke-width="1.6" stroke-linejoin="round"/>
<line x1="220" y1="408" x2="220" y2="582.3" stroke="#000" stroke-width="1.8" stroke-linecap="butt"/>
<line x1="219.1" y1="581.4" x2="325.1" y2="581.4" stroke="#000" stroke-width="1.9" stroke-linecap="butt"/>
<line x1="220" y1="581.4" x2="220" y2="585.9" stroke="#000" stroke-width="1.6" stroke-linecap="butt"/>
<line x1="271.9" y1="581.4" x2="271.9" y2="585.9" stroke="#000" stroke-width="1.6" stroke-linecap="butt"/>
<line x1="324.2" y1="581.4" x2="324.2" y2="585.9" stroke="#000" stroke-width="1.6" stroke-linecap="butt"/>
<text x="226" y="577.6" font-size="17" font-weight="bold" fill="#000" color="#000" text-anchor="start" textLength="94" lengthAdjust="spacingAndGlyphs">KO - rescued</text>
<text x="220" y="604.4" font-size="14.5" font-weight="bold" fill="#000" color="#000" text-anchor="middle">0</text>
<text x="271.9" y="604.4" font-size="14.5" font-weight="bold" fill="#000" color="#000" text-anchor="middle">200</text>
<text x="324.2" y="604.4" font-size="14.5" font-weight="bold" fill="#000" color="#000" text-anchor="middle">400</text>
<text x="271.9" y="626.9" font-size="16.8" font-weight="bold" fill="#000" color="#000" text-anchor="middle">Time (s)</text>
<text x="383" y="587.34" font-size="16.5" font-weight="bold" fill="#000" color="#000" text-anchor="end">0.5</text>
<line x1="390.2" y1="581.4" x2="395" y2="581.4" stroke="#000" stroke-width="1.6" stroke-linecap="butt"/>
<line x1="395" y1="546.5" x2="498.9" y2="546.5" stroke="#d9d9d9" stroke-width="1" stroke-linecap="butt"/>
<text x="383" y="552.76" font-size="16.5" font-weight="bold" fill="#000" color="#000" text-anchor="end">1.0</text>
<line x1="390.2" y1="546.82" x2="395" y2="546.82" stroke="#000" stroke-width="1.6" stroke-linecap="butt"/>
<line x1="395" y1="512.5" x2="498.9" y2="512.5" stroke="#d9d9d9" stroke-width="1" stroke-linecap="butt"/>
<text x="383" y="518.18" font-size="16.5" font-weight="bold" fill="#000" color="#000" text-anchor="end">1.5</text>
<line x1="390.2" y1="512.24" x2="395" y2="512.24" stroke="#000" stroke-width="1.6" stroke-linecap="butt"/>
<line x1="395" y1="477.5" x2="498.9" y2="477.5" stroke="#d9d9d9" stroke-width="1" stroke-linecap="butt"/>
<text x="383" y="483.6" font-size="16.5" font-weight="bold" fill="#000" color="#000" text-anchor="end">2.0</text>
<line x1="390.2" y1="477.66" x2="395" y2="477.66" stroke="#000" stroke-width="1.6" stroke-linecap="butt"/>
<line x1="395" y1="443.5" x2="498.9" y2="443.5" stroke="#d9d9d9" stroke-width="1" stroke-linecap="butt"/>
<text x="383" y="449.02" font-size="16.5" font-weight="bold" fill="#000" color="#000" text-anchor="end">2.5</text>
<line x1="390.2" y1="443.08" x2="395" y2="443.08" stroke="#000" stroke-width="1.6" stroke-linecap="butt"/>
<line x1="395" y1="408.5" x2="498.9" y2="408.5" stroke="#d9d9d9" stroke-width="1" stroke-linecap="butt"/>
<text x="383" y="414.44" font-size="16.5" font-weight="bold" fill="#000" color="#000" text-anchor="end">3.0</text>
<line x1="390.2" y1="408.5" x2="395" y2="408.5" stroke="#000" stroke-width="1.6" stroke-linecap="butt"/>
<line x1="446.5" y1="408.5" x2="446.5" y2="581.4" stroke="#d9d9d9" stroke-width="1" stroke-linecap="butt"/>
<line x1="498.5" y1="408.5" x2="498.5" y2="581.4" stroke="#d9d9d9" stroke-width="1" stroke-linecap="butt"/>
<polyline points="394.83,549.4 396.5,548.12 398.42,546.83 400.35,544.91 401.64,544.26 402.92,545.55 404.2,546.19 405.49,544.26 406.77,544.91 408.06,545.16 409.34,544.26 410.24,541.05 411.27,543.62 412.55,543.62 413.58,542.34 414.48,538.48 415.38,534.63 416.67,533.34 417.69,530.77 418.34,528.21 419.24,523.71 420.01,526.92 420.91,527.56 421.8,519.21 423.09,518.57 424.12,517.93 425.14,515.36 426.04,507.65 426.69,492.23 427.33,466.54 427.97,440.85 428.61,433.14 429.26,431.85 429.9,439.56 430.54,436.99 431.18,438.28 431.83,440.85 432.47,444.7 433.11,447.27 433.75,450.48 434.39,453.69 435.04,458.83 435.94,460.76 436.96,460.37 437.99,460.12 438.89,453.69 439.53,458.83 440.18,463.33 440.82,457.55 441.46,464.61 442.1,457.55 442.75,460.12 443.39,470.39 444.03,462.69 444.67,459.47 445.31,461.4 445.96,465.26 446.6,467.83 447.24,470.39 447.88,467.18 448.53,466.54 449.17,470.39 449.81,472.96 450.84,475.53 451.74,477.46 452.64,475.53 453.66,473.61 454.69,474.89 455.59,474.89 456.88,473.61 457.78,472.32 458.55,469.75 459.45,471.68 460.09,467.83 460.73,472.96 461.37,467.18 462.02,475.53 462.4,481.96 462.91,475.53 463.69,468.47 464.58,467.83 465.48,466.54 466.51,463.33 467.54,467.83 468.44,470.39 469.34,468.85 470.37,468.47 471.39,473.61 472.29,469.11 473.32,466.54" fill="none" stroke="#4472c4" stroke-width="1.6" stroke-linejoin="round"/>
<line x1="395" y1="408" x2="395" y2="582.3" stroke="#000" stroke-width="1.8" stroke-linecap="butt"/>
<line x1="394.1" y1="581.4" x2="499.8" y2="581.4" stroke="#000" stroke-width="1.9" stroke-linecap="butt"/>
<line x1="395" y1="581.4" x2="395" y2="585.9" stroke="#000" stroke-width="1.6" stroke-linecap="butt"/>
<line x1="446.7" y1="581.4" x2="446.7" y2="585.9" stroke="#000" stroke-width="1.6" stroke-linecap="butt"/>
<line x1="498.9" y1="581.4" x2="498.9" y2="585.9" stroke="#000" stroke-width="1.6" stroke-linecap="butt"/>
<text x="399.6" y="577.7" font-size="17" font-weight="bold" fill="#000" color="#000" text-anchor="start" textLength="94.6" lengthAdjust="spacingAndGlyphs">KO - rescued</text>
<text x="395" y="604.4" font-size="14.5" font-weight="bold" fill="#000" color="#000" text-anchor="middle">0</text>
<text x="446.7" y="604.4" font-size="14.5" font-weight="bold" fill="#000" color="#000" text-anchor="middle">200</text>
<text x="498.9" y="604.4" font-size="14.5" font-weight="bold" fill="#000" color="#000" text-anchor="middle">400</text>
<text x="446.7" y="626.9" font-size="16.8" font-weight="bold" fill="#000" color="#000" text-anchor="middle">Time (s)</text>
<text x="547.3" y="587.34" font-size="16.5" font-weight="bold" fill="#000" color="#000" text-anchor="end">0.5</text>
<line x1="554.5" y1="581.4" x2="559.3" y2="581.4" stroke="#000" stroke-width="1.6" stroke-linecap="butt"/>
<line x1="559.3" y1="552.5" x2="663.4" y2="552.5" stroke="#d9d9d9" stroke-width="1" stroke-linecap="butt"/>
<text x="547.3" y="558.51" font-size="16.5" font-weight="bold" fill="#000" color="#000" text-anchor="end">1.0</text>
<line x1="554.5" y1="552.57" x2="559.3" y2="552.57" stroke="#000" stroke-width="1.6" stroke-linecap="butt"/>
<line x1="559.3" y1="523.5" x2="663.4" y2="523.5" stroke="#d9d9d9" stroke-width="1" stroke-linecap="butt"/>
<text x="547.3" y="529.67" font-size="16.5" font-weight="bold" fill="#000" color="#000" text-anchor="end">1.5</text>
<line x1="554.5" y1="523.73" x2="559.3" y2="523.73" stroke="#000" stroke-width="1.6" stroke-linecap="butt"/>
<line x1="559.3" y1="494.5" x2="663.4" y2="494.5" stroke="#d9d9d9" stroke-width="1" stroke-linecap="butt"/>
<text x="547.3" y="500.84" font-size="16.5" font-weight="bold" fill="#000" color="#000" text-anchor="end">2.0</text>
<line x1="554.5" y1="494.9" x2="559.3" y2="494.9" stroke="#000" stroke-width="1.6" stroke-linecap="butt"/>
<line x1="559.3" y1="466.5" x2="663.4" y2="466.5" stroke="#d9d9d9" stroke-width="1" stroke-linecap="butt"/>
<text x="547.3" y="472.01" font-size="16.5" font-weight="bold" fill="#000" color="#000" text-anchor="end">2.5</text>
<line x1="554.5" y1="466.07" x2="559.3" y2="466.07" stroke="#000" stroke-width="1.6" stroke-linecap="butt"/>
<line x1="559.3" y1="437.5" x2="663.4" y2="437.5" stroke="#d9d9d9" stroke-width="1" stroke-linecap="butt"/>
<text x="547.3" y="443.17" font-size="16.5" font-weight="bold" fill="#000" color="#000" text-anchor="end">3.0</text>
<line x1="554.5" y1="437.23" x2="559.3" y2="437.23" stroke="#000" stroke-width="1.6" stroke-linecap="butt"/>
<line x1="559.3" y1="408.5" x2="663.4" y2="408.5" stroke="#d9d9d9" stroke-width="1" stroke-linecap="butt"/>
<text x="547.3" y="414.34" font-size="16.5" font-weight="bold" fill="#000" color="#000" text-anchor="end">3.5</text>
<line x1="554.5" y1="408.4" x2="559.3" y2="408.4" stroke="#000" stroke-width="1.6" stroke-linecap="butt"/>
<line x1="611.5" y1="408.4" x2="611.5" y2="581.4" stroke="#d9d9d9" stroke-width="1" stroke-linecap="butt"/>
<line x1="663.5" y1="408.4" x2="663.5" y2="581.4" stroke="#d9d9d9" stroke-width="1" stroke-linecap="butt"/>
<polyline points="559.24,547.18 560.39,551.23 561.55,550.07 562.71,548.34 563.52,547.76 564.32,550.07 565.25,549.49 566.41,548.92 567.33,550.07 568.14,552.39 568.95,549.49 569.64,546.6 570.45,548.34 571.26,547.18 572.42,546.6 573.57,547.18 574.5,544.29 575.42,542.56 576.35,541.98 577.04,537.93 577.74,533.31 578.89,532.15 579.7,525.21 580.86,525.21 581.67,523.48 582.59,517.12 583.75,510.76 584.91,509.03 586.29,506.72 587.45,507.87 588.6,510.18 589.53,509.03 590.45,506.14 591.61,505.56 592.77,507.87 593.92,506.72 595.08,505.56 596.24,504.4 597.05,503.25 597.85,498.62 598.78,491.68 599.7,487.64 600.51,480.12 601.32,469.72 602.02,465.67 602.83,463.36 603.64,462.2 604.56,455.26 605.49,451.22 606.29,446.59 607.1,439.66 607.8,434.45 608.61,430.98 609.42,429.25 610.11,428.67 610.92,429.83 611.73,430.41 612.65,430.41 613.23,432.72 613.81,441.39 614.39,439.08 614.97,437.34 615.54,441.97 616.12,446.59 616.7,451.8 617.28,454.11 618.2,455.84 619.01,460.47 619.59,465.09 620.17,463.94 620.75,460.47 621.56,457 622.13,458.15 622.83,465.09 623.41,472.03 624.22,473.19 625.03,474.34 625.72,481.28 626.3,487.06 627.11,486.48 627.92,485.67" fill="none" stroke="#4472c4" stroke-width="1.6" stroke-linejoin="round"/>
<line x1="559.3" y1="407.9" x2="559.3" y2="582.3" stroke="#000" stroke-width="1.8" stroke-linecap="butt"/>
<line x1="558.4" y1="581.4" x2="664.3" y2="581.4" stroke="#000" stroke-width="1.9" stroke-linecap="butt"/>
<line x1="559.3" y1="581.4" x2="559.3" y2="585.9" stroke="#000" stroke-width="1.6" stroke-linecap="butt"/>
<line x1="611.4" y1="581.4" x2="611.4" y2="585.9" stroke="#000" stroke-width="1.6" stroke-linecap="butt"/>
<line x1="663.4" y1="581.4" x2="663.4" y2="585.9" stroke="#000" stroke-width="1.6" stroke-linecap="butt"/>
<text x="562.3" y="577.6" font-size="17" font-weight="bold" fill="#000" color="#000" text-anchor="start" textLength="94.6" lengthAdjust="spacingAndGlyphs">KO - rescued</text>
<text x="559.3" y="604.4" font-size="14.5" font-weight="bold" fill="#000" color="#000" text-anchor="middle">0</text>
<text x="611.4" y="604.4" font-size="14.5" font-weight="bold" fill="#000" color="#000" text-anchor="middle">200</text>
<text x="663.4" y="604.4" font-size="14.5" font-weight="bold" fill="#000" color="#000" text-anchor="middle">400</text>
<text x="611.4" y="626.9" font-size="16.8" font-weight="bold" fill="#000" color="#000" text-anchor="middle">Time (s)</text>
<text x="13.4" y="146.6" font-size="17" font-weight="bold" color="#000" transform="rotate(-90 13.4 146.6)">Cytosolic Ca<tspan font-size="12" dy="-3.9">++</tspan></text>
<text x="13.4" y="346.8" font-size="17" font-weight="bold" color="#000" transform="rotate(-90 13.4 346.8)">Cytosolic Ca<tspan font-size="12" dy="-3.9">++</tspan></text>
<text x="11.6" y="548.2" font-size="17" font-weight="bold" color="#000" transform="rotate(-90 11.6 548.2)">Cytosolic Ca<tspan font-size="12" dy="-3.9">++</tspan></text>
<text x="13.6" y="677.6" font-size="20.5" font-weight="bold" fill="#000" color="#000" text-anchor="start">b.</text>
<text x="12.6" y="878.1" font-size="20.5" font-weight="bold" fill="#000" color="#000" text-anchor="start">c.</text>
<text x="12.8" y="1043.3" font-size="20.5" font-weight="bold" fill="#000" color="#000" text-anchor="start">d.</text>
<text x="89.8" y="669.9" font-size="15.5" font-weight="bold" fill="#000" color="#000" text-anchor="start" textLength="66.5" lengthAdjust="spacingAndGlyphs">Estradiol</text>
<text x="244.4" y="670.5" font-size="15.5" font-weight="bold" fill="#000" color="#000" text-anchor="start" textLength="84.6" lengthAdjust="spacingAndGlyphs">Progesterone</text>
<text x="400.4" y="670.5" font-size="15.5" font-weight="bold" fill="#000" color="#000" text-anchor="start" textLength="100.4" lengthAdjust="spacingAndGlyphs">Hydrocortisone</text>
<text x="559.4" y="670.5" font-size="15.5" font-weight="bold" fill="#000" color="#000" text-anchor="start" textLength="68.6" lengthAdjust="spacingAndGlyphs">Ionomycin</text>
<text x="40.3" y="763" font-size="17" font-weight="bold" fill="#1433ff" color="#1433ff" text-anchor="middle" transform="rotate(-90 40.3 763)">Normoxic</text>
<line x1="46.3" y1="701.2" x2="46.3" y2="823.4" stroke="#000" stroke-width="1.7" stroke-linecap="butt"/>
<text x="66.4" y="815.8" font-size="17" font-weight="bold" color="#000" transform="rotate(-90 66.4 815.8)">Cytosolic Ca<tspan font-size="12.3" dy="-5.6">++</tspan></text>
<text x="40.3" y="944.7" font-size="17" font-weight="bold" fill="#1433ff" color="#1433ff" text-anchor="middle" transform="rotate(-90 40.3 944.7)">Hypoxic</text>
<line x1="46.3" y1="883.9" x2="46.3" y2="1006.9" stroke="#000" stroke-width="1.7" stroke-linecap="butt"/>
<text x="66.4" y="997.2" font-size="17" font-weight="bold" color="#000" transform="rotate(-90 66.4 997.2)">Cytosolic Ca<tspan font-size="12.3" dy="-5.6">++</tspan></text>
<text x="40.4" y="1138" font-size="17" font-weight="bold" fill="#1433ff" color="#1433ff" text-anchor="middle" transform="rotate(-90 40.4 1138)">PGRMC2 Re-expression</text>
<line x1="46.3" y1="1076.5" x2="46.3" y2="1198.7" stroke="#000" stroke-width="1.7" stroke-linecap="butt"/>
<text x="66.4" y="1192.4" font-size="17" font-weight="bold" color="#000" transform="rotate(-90 66.4 1192.4)">Cytosolic Ca<tspan font-size="12.3" dy="-5.6">++</tspan></text>
<line x1="79" y1="675.4" x2="84" y2="675.4" stroke="#111" stroke-width="1.5" stroke-linecap="butt"/>
<text x="77" y="680.4" font-size="14.5" font-weight="bold" fill="#000" color="#000" text-anchor="end">3</text>
<line x1="79" y1="744.56" x2="84" y2="744.56" stroke="#111" stroke-width="1.5" stroke-linecap="butt"/>
<text x="77" y="749.56" font-size="14.5" font-weight="bold" fill="#000" color="#000" text-anchor="end">2</text>
<line x1="79" y1="813.72" x2="84" y2="813.72" stroke="#111" stroke-width="1.5" stroke-linecap="butt"/>
<text x="77" y="818.72" font-size="14.5" font-weight="bold" fill="#000" color="#000" text-anchor="end">1</text>
<rect x="100.1" y="807.5" width="30.6" height="40.8" fill="#fff"/>
<path d="M101.05 848.3V807.5H129.75V848.3" fill="none" stroke="#000" stroke-width="1.9" stroke-linejoin="miter"/>
<line x1="115.4" y1="804.04" x2="115.4" y2="807.5" stroke="#000" stroke-width="2" stroke-linecap="butt"/>
<line x1="106.83" y1="804.04" x2="123.97" y2="804.04" stroke="#000" stroke-width="2" stroke-linecap="butt"/>
<circle cx="110.5" cy="796.43" r="2.3" fill="#000"/>
<circle cx="119.5" cy="794.36" r="2.3" fill="#000"/>
<circle cx="101.7" cy="813.72" r="2.3" fill="#000"/>
<circle cx="110.8" cy="813.72" r="2.3" fill="#000"/>
<circle cx="119.7" cy="813.72" r="2.3" fill="#000"/>
<circle cx="128.5" cy="813.72" r="2.3" fill="#000"/>
<circle cx="119.8" cy="803.35" r="2.3" fill="#000"/>
<circle cx="110.8" cy="806.11" r="2.3" fill="#000"/>
<rect x="146.3" y="814.67" width="31.6" height="33.63" fill="#fff"/>
<path d="M147.25 848.3V814.67H176.95V848.3" fill="none" stroke="#1433ff" stroke-width="1.9" stroke-linejoin="miter"/>
<path d="M147.20 814.22 L148.80 811.22 L150.40 814.22 Z M150.51 814.22 L152.11 811.22 L153.71 814.22 Z M153.83 814.22 L155.43 811.22 L157.03 814.22 Z M157.14 814.22 L158.74 811.22 L160.34 814.22 Z M160.45 814.22 L162.05 811.22 L163.65 814.22 Z M163.76 814.22 L165.36 811.22 L166.96 814.22 Z M167.08 814.22 L168.68 811.22 L170.28 814.22 Z M170.39 814.22 L171.99 811.22 L173.59 814.22 Z M173.70 814.22 L175.30 811.22 L176.90 814.22 Z " fill="#1433ff"/>
<rect x="146.3" y="813.72" width="31.6" height="2.3" fill="#1433ff"/>
<line x1="84" y1="674.7" x2="84" y2="849" stroke="#111" stroke-width="1.4" stroke-linecap="butt"/>
<line x1="83.3" y1="848.3" x2="193" y2="848.3" stroke="#000" stroke-width="1.7" stroke-linecap="butt"/>
<line x1="114.8" y1="848.3" x2="114.8" y2="853.3" stroke="#111" stroke-width="1.5" stroke-linecap="butt"/>
<line x1="162" y1="848.3" x2="162" y2="853.3" stroke="#111" stroke-width="1.5" stroke-linecap="butt"/>
<text x="121" y="848.2" font-size="17" font-weight="bold" fill="#000" color="#000" transform="rotate(-90 121 848.2)">WT</text>
<text x="169.9" y="848.6" font-size="17" font-weight="bold" fill="#1433ff" color="#1433ff" transform="rotate(-90 169.9 848.6)">KO</text>
<path d="M113.4 785.4V780.2H162.2V785.4" fill="none" stroke="#111" stroke-width="1.6"/>
<text x="138" y="781.5" font-size="17.5" font-weight="bold" fill="#000" color="#000" text-anchor="middle">*</text>
<line x1="234.6" y1="675.1" x2="239.6" y2="675.1" stroke="#111" stroke-width="1.5" stroke-linecap="butt"/>
<text x="232.6" y="680.1" font-size="14.5" font-weight="bold" fill="#000" color="#000" text-anchor="end">3</text>
<line x1="234.6" y1="744.42" x2="239.6" y2="744.42" stroke="#111" stroke-width="1.5" stroke-linecap="butt"/>
<text x="232.6" y="749.42" font-size="14.5" font-weight="bold" fill="#000" color="#000" text-anchor="end">2</text>
<line x1="234.6" y1="813.74" x2="239.6" y2="813.74" stroke="#111" stroke-width="1.5" stroke-linecap="butt"/>
<text x="232.6" y="818.74" font-size="14.5" font-weight="bold" fill="#000" color="#000" text-anchor="end">1</text>
<rect x="255.6" y="767.99" width="30.2" height="80.41" fill="#fff"/>
<path d="M256.55 848.4V767.99H284.85V848.4" fill="none" stroke="#000" stroke-width="1.9" stroke-linejoin="miter"/>
<line x1="270.7" y1="753.43" x2="270.7" y2="767.99" stroke="#000" stroke-width="2" stroke-linecap="butt"/>
<line x1="262.24" y1="753.43" x2="279.16" y2="753.43" stroke="#000" stroke-width="2" stroke-linecap="butt"/>
<circle cx="270.4" cy="707.68" r="2.3" fill="#000"/>
<circle cx="270.4" cy="717.39" r="2.3" fill="#000"/>
<circle cx="270.4" cy="743.73" r="2.3" fill="#000"/>
<circle cx="270.4" cy="782.55" r="2.3" fill="#000"/>
<circle cx="270.4" cy="791.56" r="2.3" fill="#000"/>
<circle cx="265.4" cy="797.1" r="2.3" fill="#000"/>
<circle cx="275.1" cy="797.1" r="2.3" fill="#000"/>
<circle cx="270.4" cy="806.11" r="2.3" fill="#000"/>
<rect x="301.6" y="811.66" width="31.3" height="36.74" fill="#fff"/>
<path d="M302.55 848.4V811.66H331.95V848.4" fill="none" stroke="#1433ff" stroke-width="1.9" stroke-linejoin="miter"/>
<rect x="301.6" y="811.36" width="31.3" height="4.8" fill="#1433ff"/>
<circle cx="305.1" cy="813.86" r="0.55" fill="#fff"/>
<circle cx="308.57" cy="813.86" r="0.55" fill="#fff"/>
<circle cx="312.04" cy="813.86" r="0.55" fill="#fff"/>
<circle cx="315.51" cy="813.86" r="0.55" fill="#fff"/>
<circle cx="318.99" cy="813.86" r="0.55" fill="#fff"/>
<circle cx="322.46" cy="813.86" r="0.55" fill="#fff"/>
<circle cx="325.93" cy="813.86" r="0.55" fill="#fff"/>
<circle cx="329.4" cy="813.86" r="0.55" fill="#fff"/>
<line x1="317.25" y1="808.89" x2="317.25" y2="811.66" stroke="#1433ff" stroke-width="2" stroke-linecap="butt"/>
<line x1="308.49" y1="808.89" x2="326.01" y2="808.89" stroke="#1433ff" stroke-width="2" stroke-linecap="butt"/>
<path d="M316.6 790.34L319.07 794.89L314.13 794.89Z" fill="#1433ff"/>
<line x1="239.6" y1="674.4" x2="239.6" y2="849.1" stroke="#111" stroke-width="1.4" stroke-linecap="butt"/>
<line x1="238.9" y1="848.4" x2="348.2" y2="848.4" stroke="#000" stroke-width="1.7" stroke-linecap="butt"/>
<line x1="270.4" y1="848.4" x2="270.4" y2="853.4" stroke="#111" stroke-width="1.5" stroke-linecap="butt"/>
<line x1="316.6" y1="848.4" x2="316.6" y2="853.4" stroke="#111" stroke-width="1.5" stroke-linecap="butt"/>
<text x="277.1" y="848.5" font-size="17" font-weight="bold" fill="#000" color="#000" transform="rotate(-90 277.1 848.5)">WT</text>
<text x="325.6" y="848.5" font-size="17" font-weight="bold" fill="#1433ff" color="#1433ff" transform="rotate(-90 325.6 848.5)">KO</text>
<path d="M266.7 701.8V697.3H315.3V701.8" fill="none" stroke="#111" stroke-width="1.6"/>
<text x="292.5" y="698.3" font-size="17.5" font-weight="bold" fill="#000" color="#000" text-anchor="middle">**</text>
<line x1="388.6" y1="675.6" x2="393.6" y2="675.6" stroke="#111" stroke-width="1.5" stroke-linecap="butt"/>
<text x="386.6" y="680.6" font-size="14.5" font-weight="bold" fill="#000" color="#000" text-anchor="end">3</text>
<line x1="388.6" y1="744.96" x2="393.6" y2="744.96" stroke="#111" stroke-width="1.5" stroke-linecap="butt"/>
<text x="386.6" y="749.96" font-size="14.5" font-weight="bold" fill="#000" color="#000" text-anchor="end">2</text>
<line x1="388.6" y1="814.32" x2="393.6" y2="814.32" stroke="#111" stroke-width="1.5" stroke-linecap="butt"/>
<text x="386.6" y="819.32" font-size="14.5" font-weight="bold" fill="#000" color="#000" text-anchor="end">1</text>
<rect x="409.6" y="738.02" width="30.6" height="110.98" fill="#fff"/>
<path d="M410.35 849V738.02H439.45V849" fill="none" stroke="#000" stroke-width="1.5" stroke-linejoin="miter"/>
<line x1="424.9" y1="728.31" x2="424.9" y2="738.02" stroke="#000" stroke-width="2" stroke-linecap="butt"/>
<line x1="416.33" y1="728.31" x2="433.47" y2="728.31" stroke="#000" stroke-width="2" stroke-linecap="butt"/>
<circle cx="424.6" cy="698.49" r="2.3" fill="#000"/>
<circle cx="424.6" cy="713.75" r="2.3" fill="#000"/>
<circle cx="424.6" cy="721.38" r="2.3" fill="#000"/>
<circle cx="424.6" cy="733.17" r="2.3" fill="#000"/>
<circle cx="424.6" cy="746.35" r="2.3" fill="#000"/>
<circle cx="420.1" cy="756.06" r="2.3" fill="#000"/>
<circle cx="429.3" cy="756.06" r="2.3" fill="#000"/>
<circle cx="424.6" cy="786.58" r="2.3" fill="#000"/>
<rect x="456.2" y="801.14" width="30.5" height="47.86" fill="#fff"/>
<path d="M456.95 849V801.14H485.95V849" fill="none" stroke="#1433ff" stroke-width="1.5" stroke-linejoin="miter"/>
<rect x="456.2" y="800.84" width="30.5" height="4.8" fill="#1433ff"/>
<circle cx="459.7" cy="803.34" r="0.55" fill="#fff"/>
<circle cx="463.06" cy="803.34" r="0.55" fill="#fff"/>
<circle cx="466.41" cy="803.34" r="0.55" fill="#fff"/>
<circle cx="469.77" cy="803.34" r="0.55" fill="#fff"/>
<circle cx="473.13" cy="803.34" r="0.55" fill="#fff"/>
<circle cx="476.49" cy="803.34" r="0.55" fill="#fff"/>
<circle cx="479.84" cy="803.34" r="0.55" fill="#fff"/>
<circle cx="483.2" cy="803.34" r="0.55" fill="#fff"/>
<line x1="471.45" y1="799.75" x2="471.45" y2="801.14" stroke="#1433ff" stroke-width="2" stroke-linecap="butt"/>
<line x1="462.91" y1="799.75" x2="479.99" y2="799.75" stroke="#1433ff" stroke-width="2" stroke-linecap="butt"/>
<path d="M471.4 787.44L473.87 791.99L468.93 791.99Z" fill="#1433ff"/>
<path d="M473.5 802.7L475.97 807.25L471.03 807.25Z" fill="#1433ff"/>
<path d="M481.1 802.7L483.57 807.25L478.63 807.25Z" fill="#1433ff"/>
<path d="M461 797.85L463.47 802.4L458.53 802.4Z" fill="#1433ff"/>
<path d="M466 797.85L468.47 802.4L463.53 802.4Z" fill="#1433ff"/>
<path d="M476 797.85L478.47 802.4L473.53 802.4Z" fill="#1433ff"/>
<line x1="393.6" y1="674.9" x2="393.6" y2="849.7" stroke="#111" stroke-width="1.4" stroke-linecap="butt"/>
<line x1="392.9" y1="849" x2="502.1" y2="849" stroke="#000" stroke-width="1.7" stroke-linecap="butt"/>
<line x1="424.6" y1="849" x2="424.6" y2="854" stroke="#111" stroke-width="1.5" stroke-linecap="butt"/>
<line x1="471.4" y1="849" x2="471.4" y2="854" stroke="#111" stroke-width="1.5" stroke-linecap="butt"/>
<text x="434.2" y="848" font-size="17" font-weight="bold" fill="#000" color="#000" transform="rotate(-90 434.2 848)">WT</text>
<text x="476.5" y="848" font-size="17" font-weight="bold" fill="#1433ff" color="#1433ff" transform="rotate(-90 476.5 848)">KO</text>
<path d="M423.6 694.7V690.7H471.9V694.7" fill="none" stroke="#111" stroke-width="1.6"/>
<text x="448.3" y="690.7" font-size="17.5" font-weight="bold" fill="#000" color="#000" text-anchor="middle">****</text>
<line x1="546.1" y1="681.1" x2="551.1" y2="681.1" stroke="#111" stroke-width="1.5" stroke-linecap="butt"/>
<text x="544.1" y="686.1" font-size="14.5" font-weight="bold" fill="#000" color="#000" text-anchor="end">4</text>
<line x1="546.1" y1="728.81" x2="551.1" y2="728.81" stroke="#111" stroke-width="1.5" stroke-linecap="butt"/>
<text x="544.1" y="733.81" font-size="14.5" font-weight="bold" fill="#000" color="#000" text-anchor="end">3</text>
<line x1="546.1" y1="776.52" x2="551.1" y2="776.52" stroke="#111" stroke-width="1.5" stroke-linecap="butt"/>
<text x="544.1" y="781.52" font-size="14.5" font-weight="bold" fill="#000" color="#000" text-anchor="end">2</text>
<line x1="546.1" y1="824.23" x2="551.1" y2="824.23" stroke="#111" stroke-width="1.5" stroke-linecap="butt"/>
<text x="544.1" y="829.23" font-size="14.5" font-weight="bold" fill="#000" color="#000" text-anchor="end">1</text>
<rect x="568.4" y="734.3" width="34.2" height="113.8" fill="#fff"/>
<path d="M569.15 848.1V734.3H601.85V848.1" fill="none" stroke="#000" stroke-width="1.5" stroke-linejoin="miter"/>
<line x1="585.5" y1="726.42" x2="585.5" y2="734.3" stroke="#000" stroke-width="2" stroke-linecap="butt"/>
<line x1="575.92" y1="726.42" x2="595.08" y2="726.42" stroke="#000" stroke-width="2" stroke-linecap="butt"/>
<circle cx="580.4" cy="710.68" r="2.3" fill="#000"/>
<circle cx="590.4" cy="709.73" r="2.3" fill="#000"/>
<circle cx="585.1" cy="716.88" r="2.3" fill="#000"/>
<circle cx="585.1" cy="728.81" r="2.3" fill="#000"/>
<circle cx="580.4" cy="742.17" r="2.3" fill="#000"/>
<circle cx="590.4" cy="742.17" r="2.3" fill="#000"/>
<circle cx="585.1" cy="754.57" r="2.3" fill="#000"/>
<circle cx="585.1" cy="765.55" r="2.3" fill="#000"/>
<rect x="620.2" y="757.44" width="33.9" height="90.66" fill="#fff"/>
<path d="M620.95 848.1V757.44H653.35V848.1" fill="none" stroke="#1433ff" stroke-width="1.5" stroke-linejoin="miter"/>
<line x1="637.15" y1="748.85" x2="637.15" y2="757.44" stroke="#1433ff" stroke-width="2" stroke-linecap="butt"/>
<line x1="627.66" y1="748.85" x2="646.64" y2="748.85" stroke="#1433ff" stroke-width="2" stroke-linecap="butt"/>
<path d="M637.2 724.78L639.67 729.33L634.73 729.33Z" fill="#1433ff"/>
<path d="M627.2 756.27L629.67 760.82L624.73 760.82Z" fill="#1433ff"/>
<path d="M637.2 756.27L639.67 760.82L634.73 760.82Z" fill="#1433ff"/>
<path d="M646.9 756.27L649.37 760.82L644.43 760.82Z" fill="#1433ff"/>
<path d="M637.2 777.26L639.67 781.81L634.73 781.81Z" fill="#1433ff"/>
<line x1="551.1" y1="680.4" x2="551.1" y2="848.8" stroke="#111" stroke-width="1.4" stroke-linecap="butt"/>
<line x1="550.4" y1="848.1" x2="671.3" y2="848.1" stroke="#000" stroke-width="1.7" stroke-linecap="butt"/>
<line x1="585.1" y1="848.1" x2="585.1" y2="853.1" stroke="#111" stroke-width="1.5" stroke-linecap="butt"/>
<line x1="637.2" y1="848.1" x2="637.2" y2="853.1" stroke="#111" stroke-width="1.5" stroke-linecap="butt"/>
<text x="596.9" y="847.6" font-size="17" font-weight="bold" fill="#000" color="#000" transform="rotate(-90 596.9 847.6)">WT</text>
<text x="641.1" y="847.6" font-size="17" font-weight="bold" fill="#1433ff" color="#1433ff" transform="rotate(-90 641.1 847.6)">KO</text>
<line x1="79" y1="867.1" x2="84" y2="867.1" stroke="#111" stroke-width="1.5" stroke-linecap="butt"/>
<text x="77" y="872.1" font-size="14.5" font-weight="bold" fill="#000" color="#000" text-anchor="end">3</text>
<line x1="79" y1="936.34" x2="84" y2="936.34" stroke="#111" stroke-width="1.5" stroke-linecap="butt"/>
<text x="77" y="941.34" font-size="14.5" font-weight="bold" fill="#000" color="#000" text-anchor="end">2</text>
<line x1="79" y1="1005.58" x2="84" y2="1005.58" stroke="#111" stroke-width="1.5" stroke-linecap="butt"/>
<text x="77" y="1010.58" font-size="14.5" font-weight="bold" fill="#000" color="#000" text-anchor="end">1</text>
<rect x="100" y="1006.43" width="30.6" height="33.77" fill="#fff"/>
<path d="M100.85 1040.2V1006.43H129.75V1040.2" fill="none" stroke="#000" stroke-width="1.7" stroke-linejoin="miter"/>
<circle cx="102.3" cy="1005.58" r="2.3" fill="#000"/>
<circle cx="111.2" cy="1005.58" r="2.3" fill="#000"/>
<circle cx="120" cy="1005.58" r="2.3" fill="#000"/>
<circle cx="128.8" cy="1005.58" r="2.3" fill="#000"/>
<rect x="146.3" y="1006.43" width="31.7" height="33.77" fill="#fff"/>
<path d="M147.15 1040.2V1006.43H177.15V1040.2" fill="none" stroke="#1433ff" stroke-width="1.7" stroke-linejoin="miter"/>
<path d="M147.20 1006.08 L148.80 1003.08 L150.40 1006.08 Z M151.63 1006.08 L153.23 1003.08 L154.83 1006.08 Z M156.07 1006.08 L157.67 1003.08 L159.27 1006.08 Z M160.50 1006.08 L162.10 1003.08 L163.70 1006.08 Z M164.93 1006.08 L166.53 1003.08 L168.13 1006.08 Z M169.37 1006.08 L170.97 1003.08 L172.57 1006.08 Z M173.80 1006.08 L175.40 1003.08 L177.00 1006.08 Z " fill="#1433ff"/>
<rect x="146.3" y="1005.58" width="31.7" height="2.3" fill="#1433ff"/>
<line x1="84" y1="866.4" x2="84" y2="1040.9" stroke="#111" stroke-width="1.4" stroke-linecap="butt"/>
<line x1="83.3" y1="1040.2" x2="193" y2="1040.2" stroke="#000" stroke-width="1.7" stroke-linecap="butt"/>
<line x1="114.8" y1="1040.2" x2="114.8" y2="1045.2" stroke="#111" stroke-width="1.5" stroke-linecap="butt"/>
<line x1="162.1" y1="1040.2" x2="162.1" y2="1045.2" stroke="#111" stroke-width="1.5" stroke-linecap="butt"/>
<text x="121.3" y="1041" font-size="17" font-weight="bold" fill="#000" color="#000" transform="rotate(-90 121.3 1041)">WT</text>
<text x="169.9" y="1041" font-size="17" font-weight="bold" fill="#1433ff" color="#1433ff" transform="rotate(-90 169.9 1041)">KO</text>
<line x1="233.6" y1="867.1" x2="238.6" y2="867.1" stroke="#111" stroke-width="1.5" stroke-linecap="butt"/>
<text x="231.6" y="872.1" font-size="14.5" font-weight="bold" fill="#000" color="#000" text-anchor="end">3</text>
<line x1="233.6" y1="936.34" x2="238.6" y2="936.34" stroke="#111" stroke-width="1.5" stroke-linecap="butt"/>
<text x="231.6" y="941.34" font-size="14.5" font-weight="bold" fill="#000" color="#000" text-anchor="end">2</text>
<line x1="233.6" y1="1005.58" x2="238.6" y2="1005.58" stroke="#111" stroke-width="1.5" stroke-linecap="butt"/>
<text x="231.6" y="1010.58" font-size="14.5" font-weight="bold" fill="#000" color="#000" text-anchor="end">1</text>
<rect x="254.6" y="922.98" width="30.9" height="117.22" fill="#fff"/>
<path d="M255.4 1040.2V922.98H284.7V1040.2" fill="none" stroke="#000" stroke-width="1.6" stroke-linejoin="miter"/>
<line x1="270.05" y1="895.49" x2="270.05" y2="922.98" stroke="#000" stroke-width="2" stroke-linecap="butt"/>
<line x1="261.4" y1="895.49" x2="278.7" y2="895.49" stroke="#000" stroke-width="2" stroke-linecap="butt"/>
<circle cx="265.2" cy="894.8" r="2.3" fill="#000"/>
<circle cx="274.2" cy="896.32" r="2.3" fill="#000"/>
<circle cx="269.9" cy="975.11" r="2.3" fill="#000"/>
<rect x="301.1" y="1006.38" width="31.3" height="33.82" fill="#fff"/>
<path d="M301.9 1040.2V1006.38H331.6V1040.2" fill="none" stroke="#1433ff" stroke-width="1.6" stroke-linejoin="miter"/>
<path d="M302.00 1006.08 L303.60 1003.08 L305.20 1006.08 Z M306.37 1006.08 L307.97 1003.08 L309.57 1006.08 Z M310.73 1006.08 L312.33 1003.08 L313.93 1006.08 Z M315.10 1006.08 L316.70 1003.08 L318.30 1006.08 Z M319.47 1006.08 L321.07 1003.08 L322.67 1006.08 Z M323.83 1006.08 L325.43 1003.08 L327.03 1006.08 Z M328.20 1006.08 L329.80 1003.08 L331.40 1006.08 Z " fill="#1433ff"/>
<rect x="301.1" y="1005.58" width="31.3" height="2.3" fill="#1433ff"/>
<line x1="238.6" y1="866.4" x2="238.6" y2="1040.9" stroke="#111" stroke-width="1.4" stroke-linecap="butt"/>
<line x1="237.9" y1="1040.2" x2="348.2" y2="1040.2" stroke="#000" stroke-width="1.7" stroke-linecap="butt"/>
<line x1="269.9" y1="1040.2" x2="269.9" y2="1045.2" stroke="#111" stroke-width="1.5" stroke-linecap="butt"/>
<line x1="316.1" y1="1040.2" x2="316.1" y2="1045.2" stroke="#111" stroke-width="1.5" stroke-linecap="butt"/>
<text x="277" y="1041" font-size="17" font-weight="bold" fill="#000" color="#000" transform="rotate(-90 277 1041)">WT</text>
<text x="325.6" y="1041.4" font-size="17" font-weight="bold" fill="#1433ff" color="#1433ff" transform="rotate(-90 325.6 1041.4)">KO</text>
<path d="M266.7 883.9V879.2H315.3V883.9" fill="none" stroke="#111" stroke-width="1.6"/>
<text x="291.6" y="880.5" font-size="17.5" font-weight="bold" fill="#000" color="#000" text-anchor="middle">****</text>
<line x1="388.1" y1="867.1" x2="393.1" y2="867.1" stroke="#111" stroke-width="1.5" stroke-linecap="butt"/>
<text x="386.1" y="872.1" font-size="14.5" font-weight="bold" fill="#000" color="#000" text-anchor="end">4</text>
<line x1="388.1" y1="916.56" x2="393.1" y2="916.56" stroke="#111" stroke-width="1.5" stroke-linecap="butt"/>
<text x="386.1" y="921.56" font-size="14.5" font-weight="bold" fill="#000" color="#000" text-anchor="end">3</text>
<line x1="388.1" y1="966.02" x2="393.1" y2="966.02" stroke="#111" stroke-width="1.5" stroke-linecap="butt"/>
<text x="386.1" y="971.02" font-size="14.5" font-weight="bold" fill="#000" color="#000" text-anchor="end">2</text>
<line x1="388.1" y1="1015.48" x2="393.1" y2="1015.48" stroke="#111" stroke-width="1.5" stroke-linecap="butt"/>
<text x="386.1" y="1020.48" font-size="14.5" font-weight="bold" fill="#000" color="#000" text-anchor="end">1</text>
<rect x="409.6" y="917.05" width="30.2" height="123.15" fill="#fff"/>
<path d="M410.35 1040.2V917.05H439.05V1040.2" fill="none" stroke="#000" stroke-width="1.5" stroke-linejoin="miter"/>
<line x1="424.7" y1="900.73" x2="424.7" y2="917.05" stroke="#000" stroke-width="2" stroke-linecap="butt"/>
<line x1="416.24" y1="900.73" x2="433.16" y2="900.73" stroke="#000" stroke-width="2" stroke-linecap="butt"/>
<circle cx="424.6" cy="896.78" r="2.3" fill="#000"/>
<circle cx="424.6" cy="905.18" r="2.3" fill="#000"/>
<circle cx="424.6" cy="947.23" r="2.3" fill="#000"/>
<rect x="455.6" y="1011.03" width="30.9" height="29.17" fill="#fff"/>
<path d="M456.35 1040.2V1011.03H485.75V1040.2" fill="none" stroke="#1433ff" stroke-width="1.5" stroke-linejoin="miter"/>
<line x1="471.05" y1="1008.56" x2="471.05" y2="1011.03" stroke="#1433ff" stroke-width="2" stroke-linecap="butt"/>
<line x1="462.4" y1="1008.56" x2="479.7" y2="1008.56" stroke="#1433ff" stroke-width="2" stroke-linecap="butt"/>
<path d="M457.6 1002.99L460.07 1007.54L455.13 1007.54Z" fill="#1433ff"/>
<path d="M466.5 1000.51L468.97 1005.06L464.03 1005.06Z" fill="#1433ff"/>
<path d="M484.5 1001.01L486.97 1005.56L482.03 1005.56Z" fill="#1433ff"/>
<path d="M458.2 1012.88L460.67 1017.43L455.73 1017.43Z" fill="#1433ff"/>
<path d="M476 1013.37L478.47 1017.92L473.53 1017.92Z" fill="#1433ff"/>
<path d="M483.6 1012.88L486.07 1017.43L481.13 1017.43Z" fill="#1433ff"/>
<line x1="393.1" y1="866.4" x2="393.1" y2="1040.9" stroke="#111" stroke-width="1.4" stroke-linecap="butt"/>
<line x1="392.4" y1="1040.2" x2="502.1" y2="1040.2" stroke="#000" stroke-width="1.7" stroke-linecap="butt"/>
<line x1="424.6" y1="1040.2" x2="424.6" y2="1045.2" stroke="#111" stroke-width="1.5" stroke-linecap="butt"/>
<line x1="471.4" y1="1040.2" x2="471.4" y2="1045.2" stroke="#111" stroke-width="1.5" stroke-linecap="butt"/>
<text x="434.1" y="1040.7" font-size="17" font-weight="bold" fill="#000" color="#000" transform="rotate(-90 434.1 1040.7)">WT</text>
<text x="476.5" y="1040.4" font-size="17" font-weight="bold" fill="#1433ff" color="#1433ff" transform="rotate(-90 476.5 1040.4)">KO</text>
<path d="M423.6 885.7V881.3H471.9V885.7" fill="none" stroke="#111" stroke-width="1.6"/>
<text x="448.3" y="880.4" font-size="17.5" font-weight="bold" fill="#000" color="#000" text-anchor="middle">****</text>
<line x1="551.7" y1="867" x2="556.7" y2="867" stroke="#111" stroke-width="1.5" stroke-linecap="butt"/>
<text x="549.7" y="872" font-size="14.5" font-weight="bold" fill="#000" color="#000" text-anchor="end">5</text>
<line x1="551.7" y1="905.5" x2="556.7" y2="905.5" stroke="#111" stroke-width="1.5" stroke-linecap="butt"/>
<text x="549.7" y="910.5" font-size="14.5" font-weight="bold" fill="#000" color="#000" text-anchor="end">4</text>
<line x1="551.7" y1="944" x2="556.7" y2="944" stroke="#111" stroke-width="1.5" stroke-linecap="butt"/>
<text x="549.7" y="949" font-size="14.5" font-weight="bold" fill="#000" color="#000" text-anchor="end">3</text>
<line x1="551.7" y1="982.5" x2="556.7" y2="982.5" stroke="#111" stroke-width="1.5" stroke-linecap="butt"/>
<text x="549.7" y="987.5" font-size="14.5" font-weight="bold" fill="#000" color="#000" text-anchor="end">2</text>
<line x1="551.7" y1="1021" x2="556.7" y2="1021" stroke="#111" stroke-width="1.5" stroke-linecap="butt"/>
<text x="549.7" y="1026" font-size="14.5" font-weight="bold" fill="#000" color="#000" text-anchor="end">1</text>
<rect x="572.9" y="954.01" width="30.6" height="86.19" fill="#fff"/>
<path d="M573.65 1040.2V954.01H602.75V1040.2" fill="none" stroke="#000" stroke-width="1.5" stroke-linejoin="miter"/>
<line x1="588.2" y1="949.77" x2="588.2" y2="954.01" stroke="#000" stroke-width="2" stroke-linecap="butt"/>
<line x1="579.63" y1="949.77" x2="596.77" y2="949.77" stroke="#000" stroke-width="2" stroke-linecap="butt"/>
<circle cx="583" cy="950.54" r="2.3" fill="#000"/>
<circle cx="592.5" cy="946.69" r="2.3" fill="#000"/>
<circle cx="587.8" cy="965.94" r="2.3" fill="#000"/>
<circle cx="590" cy="951.7" r="2.3" fill="#000"/>
<rect x="619.1" y="920.9" width="31.3" height="119.3" fill="#fff"/>
<path d="M619.85 1040.2V920.9H649.65V1040.2" fill="none" stroke="#1433ff" stroke-width="1.5" stroke-linejoin="miter"/>
<line x1="634.75" y1="906.65" x2="634.75" y2="920.9" stroke="#1433ff" stroke-width="2" stroke-linecap="butt"/>
<line x1="625.99" y1="906.65" x2="643.51" y2="906.65" stroke="#1433ff" stroke-width="2" stroke-linecap="butt"/>
<path d="M634.5 888.27L636.97 892.82L632.03 892.82Z" fill="#1433ff"/>
<path d="M630.6 923.3L633.07 927.86L628.13 927.86Z" fill="#1433ff"/>
<path d="M639 926.38L641.47 930.94L636.53 930.94Z" fill="#1433ff"/>
<path d="M630.6 930.62L633.07 935.17L628.13 935.17Z" fill="#1433ff"/>
<path d="M634.5 944.09L636.97 948.64L632.03 948.64Z" fill="#1433ff"/>
<path d="M634.5 961.8L636.97 966.36L632.03 966.36Z" fill="#1433ff"/>
<line x1="556.7" y1="866.3" x2="556.7" y2="1040.9" stroke="#111" stroke-width="1.4" stroke-linecap="butt"/>
<line x1="556" y1="1040.2" x2="665.8" y2="1040.2" stroke="#000" stroke-width="1.7" stroke-linecap="butt"/>
<line x1="587.8" y1="1040.2" x2="587.8" y2="1045.2" stroke="#111" stroke-width="1.5" stroke-linecap="butt"/>
<line x1="634.5" y1="1040.2" x2="634.5" y2="1045.2" stroke="#111" stroke-width="1.5" stroke-linecap="butt"/>
<text x="596.4" y="1040.7" font-size="17" font-weight="bold" fill="#000" color="#000" transform="rotate(-90 596.4 1040.7)">WT</text>
<text x="640.8" y="1040.4" font-size="17" font-weight="bold" fill="#1433ff" color="#1433ff" transform="rotate(-90 640.8 1040.4)">KO</text>
<line x1="79" y1="1059.7" x2="84" y2="1059.7" stroke="#111" stroke-width="1.5" stroke-linecap="butt"/>
<text x="77" y="1064.7" font-size="14.5" font-weight="bold" fill="#000" color="#000" text-anchor="end">3</text>
<line x1="79" y1="1131.34" x2="84" y2="1131.34" stroke="#111" stroke-width="1.5" stroke-linecap="butt"/>
<text x="77" y="1136.34" font-size="14.5" font-weight="bold" fill="#000" color="#000" text-anchor="end">2</text>
<line x1="79" y1="1202.98" x2="84" y2="1202.98" stroke="#111" stroke-width="1.5" stroke-linecap="butt"/>
<text x="77" y="1207.98" font-size="14.5" font-weight="bold" fill="#000" color="#000" text-anchor="end">1</text>
<rect x="101.7" y="1202.98" width="32.4" height="35.82" fill="#fff"/>
<path d="M102.5 1238.8V1202.98H133.3V1238.8" fill="none" stroke="#000" stroke-width="1.6" stroke-linejoin="miter"/>
<rect x="101.7" y="1201.68" width="32.4" height="4.0" fill="#000" rx="1.2"/>
<circle cx="103" cy="1202.78" r="1.2" fill="#000"/>
<circle cx="103" cy="1205.58" r="1.0" fill="#000"/>
<circle cx="105.48" cy="1202.78" r="1.2" fill="#000"/>
<circle cx="105.48" cy="1205.58" r="1.0" fill="#000"/>
<circle cx="107.97" cy="1202.78" r="1.2" fill="#000"/>
<circle cx="107.97" cy="1205.58" r="1.0" fill="#000"/>
<circle cx="110.45" cy="1202.78" r="1.2" fill="#000"/>
<circle cx="110.45" cy="1205.58" r="1.0" fill="#000"/>
<circle cx="112.93" cy="1202.78" r="1.2" fill="#000"/>
<circle cx="112.93" cy="1205.58" r="1.0" fill="#000"/>
<circle cx="115.42" cy="1202.78" r="1.2" fill="#000"/>
<circle cx="115.42" cy="1205.58" r="1.0" fill="#000"/>
<circle cx="117.9" cy="1202.78" r="1.2" fill="#000"/>
<circle cx="117.9" cy="1205.58" r="1.0" fill="#000"/>
<circle cx="120.38" cy="1202.78" r="1.2" fill="#000"/>
<circle cx="120.38" cy="1205.58" r="1.0" fill="#000"/>
<circle cx="122.87" cy="1202.78" r="1.2" fill="#000"/>
<circle cx="122.87" cy="1205.58" r="1.0" fill="#000"/>
<circle cx="125.35" cy="1202.78" r="1.2" fill="#000"/>
<circle cx="125.35" cy="1205.58" r="1.0" fill="#000"/>
<circle cx="127.83" cy="1202.78" r="1.2" fill="#000"/>
<circle cx="127.83" cy="1205.58" r="1.0" fill="#000"/>
<circle cx="130.32" cy="1202.78" r="1.2" fill="#000"/>
<circle cx="130.32" cy="1205.58" r="1.0" fill="#000"/>
<circle cx="132.8" cy="1202.78" r="1.2" fill="#000"/>
<circle cx="132.8" cy="1205.58" r="1.0" fill="#000"/>
<rect x="152.3" y="1151.4" width="33.2" height="87.4" fill="#fff"/>
<path d="M153.1 1238.8V1151.4H184.7V1238.8" fill="none" stroke="#1433ff" stroke-width="1.6" stroke-linejoin="miter"/>
<line x1="168.9" y1="1134.21" x2="168.9" y2="1151.4" stroke="#1433ff" stroke-width="2" stroke-linecap="butt"/>
<line x1="159.6" y1="1134.21" x2="178.2" y2="1134.21" stroke="#1433ff" stroke-width="2" stroke-linecap="butt"/>
<path d="M169 1114.41L171.47 1118.96L166.53 1118.96Z" fill="#1433ff"/>
<path d="M168.8 1159.55L171.27 1164.1L166.33 1164.1Z" fill="#1433ff"/>
<path d="M168.8 1170.29L171.27 1174.84L166.33 1174.84Z" fill="#1433ff"/>
<line x1="84" y1="1059" x2="84" y2="1239.5" stroke="#111" stroke-width="1.4" stroke-linecap="butt"/>
<line x1="83.3" y1="1238.8" x2="202.8" y2="1238.8" stroke="#000" stroke-width="1.7" stroke-linecap="butt"/>
<line x1="117.7" y1="1238.8" x2="117.7" y2="1243.8" stroke="#111" stroke-width="1.5" stroke-linecap="butt"/>
<line x1="169" y1="1238.8" x2="169" y2="1243.8" stroke="#111" stroke-width="1.5" stroke-linecap="butt"/>
<text x="121.4" y="1238.7" font-size="17" font-weight="bold" fill="#000" color="#000" transform="rotate(-90 121.4 1238.7)">KO</text>
<text x="175.1" y="1238.4" font-size="17" font-weight="bold" fill="#1433ff" color="#1433ff" transform="rotate(-90 175.1 1238.4)">Rescued</text>
<path d="M120.9 1113.3V1108.8H169V1113.3" fill="none" stroke="#111" stroke-width="1.6"/>
<text x="144.9" y="1110.7" font-size="17.5" font-weight="bold" fill="#000" color="#000" text-anchor="middle">***</text>
<line x1="233.5" y1="1061.1" x2="238.5" y2="1061.1" stroke="#111" stroke-width="1.5" stroke-linecap="butt"/>
<text x="231.5" y="1066.1" font-size="14.5" font-weight="bold" fill="#000" color="#000" text-anchor="end">4</text>
<line x1="233.5" y1="1105.88" x2="238.5" y2="1105.88" stroke="#111" stroke-width="1.5" stroke-linecap="butt"/>
<text x="231.5" y="1110.88" font-size="14.5" font-weight="bold" fill="#000" color="#000" text-anchor="end">3</text>
<line x1="233.5" y1="1150.66" x2="238.5" y2="1150.66" stroke="#111" stroke-width="1.5" stroke-linecap="butt"/>
<text x="231.5" y="1155.66" font-size="14.5" font-weight="bold" fill="#000" color="#000" text-anchor="end">2</text>
<line x1="233.5" y1="1195.44" x2="238.5" y2="1195.44" stroke="#111" stroke-width="1.5" stroke-linecap="butt"/>
<text x="231.5" y="1200.44" font-size="14.5" font-weight="bold" fill="#000" color="#000" text-anchor="end">1</text>
<line x1="233.5" y1="1240.22" x2="238.5" y2="1240.22" stroke="#111" stroke-width="1.5" stroke-linecap="butt"/>
<text x="231.5" y="1245.22" font-size="14.5" font-weight="bold" fill="#000" color="#000" text-anchor="end">0</text>
<rect x="255.8" y="1195.44" width="33.3" height="44.76" fill="#fff"/>
<path d="M256.55 1240.2V1195.44H288.35V1240.2" fill="none" stroke="#000" stroke-width="1.5" stroke-linejoin="miter"/>
<rect x="255.8" y="1194.14" width="33.3" height="4.0" fill="#000" rx="1.2"/>
<circle cx="257.1" cy="1195.24" r="1.2" fill="#000"/>
<circle cx="257.1" cy="1198.04" r="1.0" fill="#000"/>
<circle cx="259.66" cy="1195.24" r="1.2" fill="#000"/>
<circle cx="259.66" cy="1198.04" r="1.0" fill="#000"/>
<circle cx="262.22" cy="1195.24" r="1.2" fill="#000"/>
<circle cx="262.22" cy="1198.04" r="1.0" fill="#000"/>
<circle cx="264.78" cy="1195.24" r="1.2" fill="#000"/>
<circle cx="264.78" cy="1198.04" r="1.0" fill="#000"/>
<circle cx="267.33" cy="1195.24" r="1.2" fill="#000"/>
<circle cx="267.33" cy="1198.04" r="1.0" fill="#000"/>
<circle cx="269.89" cy="1195.24" r="1.2" fill="#000"/>
<circle cx="269.89" cy="1198.04" r="1.0" fill="#000"/>
<circle cx="272.45" cy="1195.24" r="1.2" fill="#000"/>
<circle cx="272.45" cy="1198.04" r="1.0" fill="#000"/>
<circle cx="275.01" cy="1195.24" r="1.2" fill="#000"/>
<circle cx="275.01" cy="1198.04" r="1.0" fill="#000"/>
<circle cx="277.57" cy="1195.24" r="1.2" fill="#000"/>
<circle cx="277.57" cy="1198.04" r="1.0" fill="#000"/>
<circle cx="280.12" cy="1195.24" r="1.2" fill="#000"/>
<circle cx="280.12" cy="1198.04" r="1.0" fill="#000"/>
<circle cx="282.68" cy="1195.24" r="1.2" fill="#000"/>
<circle cx="282.68" cy="1198.04" r="1.0" fill="#000"/>
<circle cx="285.24" cy="1195.24" r="1.2" fill="#000"/>
<circle cx="285.24" cy="1198.04" r="1.0" fill="#000"/>
<circle cx="287.8" cy="1195.24" r="1.2" fill="#000"/>
<circle cx="287.8" cy="1198.04" r="1.0" fill="#000"/>
<line x1="272.45" y1="1194.1" x2="272.45" y2="1195.44" stroke="#000" stroke-width="2" stroke-linecap="butt"/>
<line x1="263.13" y1="1194.1" x2="281.77" y2="1194.1" stroke="#000" stroke-width="2" stroke-linecap="butt"/>
<circle cx="271.9" cy="1182.01" r="2.3" fill="#000"/>
<rect x="306.6" y="1113.94" width="33.6" height="126.26" fill="#fff"/>
<path d="M307.35 1240.2V1113.94H339.45V1240.2" fill="none" stroke="#1433ff" stroke-width="1.5" stroke-linejoin="miter"/>
<line x1="323.4" y1="1103.64" x2="323.4" y2="1113.94" stroke="#1433ff" stroke-width="2" stroke-linecap="butt"/>
<line x1="313.99" y1="1103.64" x2="332.81" y2="1103.64" stroke="#1433ff" stroke-width="2" stroke-linecap="butt"/>
<path d="M323.7 1090.29L326.17 1094.84L321.23 1094.84Z" fill="#1433ff"/>
<path d="M323.7 1116.27L326.17 1120.82L321.23 1120.82Z" fill="#1433ff"/>
<path d="M323.7 1124.77L326.17 1129.32L321.23 1129.32Z" fill="#1433ff"/>
<line x1="238.5" y1="1060.4" x2="238.5" y2="1240.9" stroke="#111" stroke-width="1.4" stroke-linecap="butt"/>
<line x1="237.8" y1="1240.2" x2="357" y2="1240.2" stroke="#000" stroke-width="1.7" stroke-linecap="butt"/>
<line x1="272" y1="1240.2" x2="272" y2="1245.2" stroke="#111" stroke-width="1.5" stroke-linecap="butt"/>
<line x1="323.2" y1="1240.2" x2="323.2" y2="1245.2" stroke="#111" stroke-width="1.5" stroke-linecap="butt"/>
<text x="276.9" y="1238.6" font-size="17" font-weight="bold" fill="#000" color="#000" transform="rotate(-90 276.9 1238.6)">KO</text>
<text x="329.8" y="1238.6" font-size="17" font-weight="bold" fill="#1433ff" color="#1433ff" transform="rotate(-90 329.8 1238.6)">Rescued</text>
<path d="M271.7 1083.1V1078.6H320.3V1083.1" fill="none" stroke="#111" stroke-width="1.6"/>
<text x="296.9" y="1081.3" font-size="17.5" font-weight="bold" fill="#000" color="#000" text-anchor="middle">****</text>
<line x1="386.6" y1="1061.1" x2="391.6" y2="1061.1" stroke="#111" stroke-width="1.5" stroke-linecap="butt"/>
<text x="384.6" y="1066.1" font-size="14.5" font-weight="bold" fill="#000" color="#000" text-anchor="end">4</text>
<line x1="386.6" y1="1105.88" x2="391.6" y2="1105.88" stroke="#111" stroke-width="1.5" stroke-linecap="butt"/>
<text x="384.6" y="1110.88" font-size="14.5" font-weight="bold" fill="#000" color="#000" text-anchor="end">3</text>
<line x1="386.6" y1="1150.66" x2="391.6" y2="1150.66" stroke="#111" stroke-width="1.5" stroke-linecap="butt"/>
<text x="384.6" y="1155.66" font-size="14.5" font-weight="bold" fill="#000" color="#000" text-anchor="end">2</text>
<line x1="386.6" y1="1195.44" x2="391.6" y2="1195.44" stroke="#111" stroke-width="1.5" stroke-linecap="butt"/>
<text x="384.6" y="1200.44" font-size="14.5" font-weight="bold" fill="#000" color="#000" text-anchor="end">1</text>
<line x1="386.6" y1="1240.22" x2="391.6" y2="1240.22" stroke="#111" stroke-width="1.5" stroke-linecap="butt"/>
<text x="384.6" y="1245.22" font-size="14.5" font-weight="bold" fill="#000" color="#000" text-anchor="end">0</text>
<rect x="409.1" y="1186.93" width="33.1" height="53.27" fill="#fff"/>
<path d="M409.85 1240.2V1186.93H441.45V1240.2" fill="none" stroke="#000" stroke-width="1.5" stroke-linejoin="miter"/>
<rect x="409.1" y="1185.63" width="33.1" height="4.0" fill="#000" rx="1.2"/>
<circle cx="410.4" cy="1186.73" r="1.2" fill="#000"/>
<circle cx="410.4" cy="1189.53" r="1.0" fill="#000"/>
<circle cx="412.94" cy="1186.73" r="1.2" fill="#000"/>
<circle cx="412.94" cy="1189.53" r="1.0" fill="#000"/>
<circle cx="415.48" cy="1186.73" r="1.2" fill="#000"/>
<circle cx="415.48" cy="1189.53" r="1.0" fill="#000"/>
<circle cx="418.03" cy="1186.73" r="1.2" fill="#000"/>
<circle cx="418.03" cy="1189.53" r="1.0" fill="#000"/>
<circle cx="420.57" cy="1186.73" r="1.2" fill="#000"/>
<circle cx="420.57" cy="1189.53" r="1.0" fill="#000"/>
<circle cx="423.11" cy="1186.73" r="1.2" fill="#000"/>
<circle cx="423.11" cy="1189.53" r="1.0" fill="#000"/>
<circle cx="425.65" cy="1186.73" r="1.2" fill="#000"/>
<circle cx="425.65" cy="1189.53" r="1.0" fill="#000"/>
<circle cx="428.19" cy="1186.73" r="1.2" fill="#000"/>
<circle cx="428.19" cy="1189.53" r="1.0" fill="#000"/>
<circle cx="430.73" cy="1186.73" r="1.2" fill="#000"/>
<circle cx="430.73" cy="1189.53" r="1.0" fill="#000"/>
<circle cx="433.27" cy="1186.73" r="1.2" fill="#000"/>
<circle cx="433.27" cy="1189.53" r="1.0" fill="#000"/>
<circle cx="435.82" cy="1186.73" r="1.2" fill="#000"/>
<circle cx="435.82" cy="1189.53" r="1.0" fill="#000"/>
<circle cx="438.36" cy="1186.73" r="1.2" fill="#000"/>
<circle cx="438.36" cy="1189.53" r="1.0" fill="#000"/>
<circle cx="440.9" cy="1186.73" r="1.2" fill="#000"/>
<circle cx="440.9" cy="1189.53" r="1.0" fill="#000"/>
<line x1="425.65" y1="1186.48" x2="425.65" y2="1186.93" stroke="#000" stroke-width="2" stroke-linecap="butt"/>
<line x1="416.38" y1="1186.48" x2="434.92" y2="1186.48" stroke="#000" stroke-width="2" stroke-linecap="butt"/>
<circle cx="425.4" cy="1179.77" r="2.3" fill="#000"/>
<rect x="459.7" y="1108.57" width="33.9" height="131.63" fill="#fff"/>
<path d="M460.45 1240.2V1108.57H492.85V1240.2" fill="none" stroke="#1433ff" stroke-width="1.5" stroke-linejoin="miter"/>
<line x1="476.65" y1="1104.09" x2="476.65" y2="1108.57" stroke="#1433ff" stroke-width="2" stroke-linecap="butt"/>
<line x1="467.16" y1="1104.09" x2="486.14" y2="1104.09" stroke="#1433ff" stroke-width="2" stroke-linecap="butt"/>
<path d="M471.4 1100.15L473.87 1104.7L468.93 1104.7Z" fill="#1433ff"/>
<path d="M481.9 1104.18L484.37 1108.73L479.43 1108.73Z" fill="#1433ff"/>
<path d="M476.1 1114.03L478.57 1118.58L473.63 1118.58Z" fill="#1433ff"/>
<line x1="391.6" y1="1060.4" x2="391.6" y2="1240.9" stroke="#111" stroke-width="1.4" stroke-linecap="butt"/>
<line x1="390.9" y1="1240.2" x2="511.3" y2="1240.2" stroke="#000" stroke-width="1.7" stroke-linecap="butt"/>
<line x1="425.4" y1="1240.2" x2="425.4" y2="1245.2" stroke="#111" stroke-width="1.5" stroke-linecap="butt"/>
<line x1="476.1" y1="1240.2" x2="476.1" y2="1245.2" stroke="#111" stroke-width="1.5" stroke-linecap="butt"/>
<text x="432" y="1238.6" font-size="17" font-weight="bold" fill="#000" color="#000" transform="rotate(-90 432 1238.6)">KO</text>
<text x="484.1" y="1238.6" font-size="17" font-weight="bold" fill="#1433ff" color="#1433ff" transform="rotate(-90 484.1 1238.6)">Rescued</text>
<path d="M426.7 1093.1V1088.4H475.3V1093.1" fill="none" stroke="#111" stroke-width="1.6"/>
<text x="451.9" y="1086.6" font-size="17.5" font-weight="bold" fill="#000" color="#000" text-anchor="middle">****</text>
<line x1="551.1" y1="1058.4" x2="556.1" y2="1058.4" stroke="#111" stroke-width="1.5" stroke-linecap="butt"/>
<text x="549.1" y="1063.4" font-size="14.5" font-weight="bold" fill="#000" color="#000" text-anchor="end">4</text>
<line x1="551.1" y1="1103.2" x2="556.1" y2="1103.2" stroke="#111" stroke-width="1.5" stroke-linecap="butt"/>
<text x="549.1" y="1108.2" font-size="14.5" font-weight="bold" fill="#000" color="#000" text-anchor="end">3</text>
<line x1="551.1" y1="1148" x2="556.1" y2="1148" stroke="#111" stroke-width="1.5" stroke-linecap="butt"/>
<text x="549.1" y="1153" font-size="14.5" font-weight="bold" fill="#000" color="#000" text-anchor="end">2</text>
<line x1="551.1" y1="1192.8" x2="556.1" y2="1192.8" stroke="#111" stroke-width="1.5" stroke-linecap="butt"/>
<text x="549.1" y="1197.8" font-size="14.5" font-weight="bold" fill="#000" color="#000" text-anchor="end">1</text>
<line x1="551.1" y1="1237.6" x2="556.1" y2="1237.6" stroke="#111" stroke-width="1.5" stroke-linecap="butt"/>
<text x="549.1" y="1242.6" font-size="14.5" font-weight="bold" fill="#000" color="#000" text-anchor="end">0</text>
<rect x="573.5" y="1130.53" width="33.5" height="107.07" fill="#fff"/>
<path d="M574.25 1237.6V1130.53H606.25V1237.6" fill="none" stroke="#000" stroke-width="1.5" stroke-linejoin="miter"/>
<line x1="590.25" y1="1122.02" x2="590.25" y2="1130.53" stroke="#000" stroke-width="2" stroke-linecap="butt"/>
<line x1="580.87" y1="1122.02" x2="599.63" y2="1122.02" stroke="#000" stroke-width="2" stroke-linecap="butt"/>
<circle cx="589.9" cy="1101.86" r="2.3" fill="#000"/>
<circle cx="580.4" cy="1130.98" r="2.3" fill="#000"/>
<circle cx="589.9" cy="1133.22" r="2.3" fill="#000"/>
<circle cx="599.6" cy="1133.22" r="2.3" fill="#000"/>
<circle cx="589.9" cy="1151.58" r="2.3" fill="#000"/>
<rect x="624.1" y="1105.89" width="34" height="131.71" fill="#fff"/>
<path d="M624.85 1237.6V1105.89H657.35V1237.6" fill="none" stroke="#1433ff" stroke-width="1.5" stroke-linejoin="miter"/>
<line x1="641.1" y1="1088.86" x2="641.1" y2="1105.89" stroke="#1433ff" stroke-width="2" stroke-linecap="butt"/>
<line x1="631.58" y1="1088.86" x2="650.62" y2="1088.86" stroke="#1433ff" stroke-width="2" stroke-linecap="butt"/>
<path d="M641.1 1079.1L643.57 1083.65L638.63 1083.65Z" fill="#1433ff"/>
<path d="M641.1 1096.12L643.57 1100.67L638.63 1100.67Z" fill="#1433ff"/>
<path d="M641.1 1134.65L643.57 1139.2L638.63 1139.2Z" fill="#1433ff"/>
<line x1="556.1" y1="1057.7" x2="556.1" y2="1238.3" stroke="#111" stroke-width="1.4" stroke-linecap="butt"/>
<line x1="555.4" y1="1237.6" x2="674.5" y2="1237.6" stroke="#000" stroke-width="1.7" stroke-linecap="butt"/>
<line x1="589.6" y1="1237.6" x2="589.6" y2="1242.6" stroke="#111" stroke-width="1.5" stroke-linecap="butt"/>
<line x1="641.1" y1="1237.6" x2="641.1" y2="1242.6" stroke="#111" stroke-width="1.5" stroke-linecap="butt"/>
<text x="596.4" y="1237.6" font-size="17" font-weight="bold" fill="#000" color="#000" transform="rotate(-90 596.4 1237.6)">KO</text>
<text x="646.6" y="1237.6" font-size="17" font-weight="bold" fill="#1433ff" color="#1433ff" transform="rotate(-90 646.6 1237.6)">Rescued</text>
</svg>
</body></html>
